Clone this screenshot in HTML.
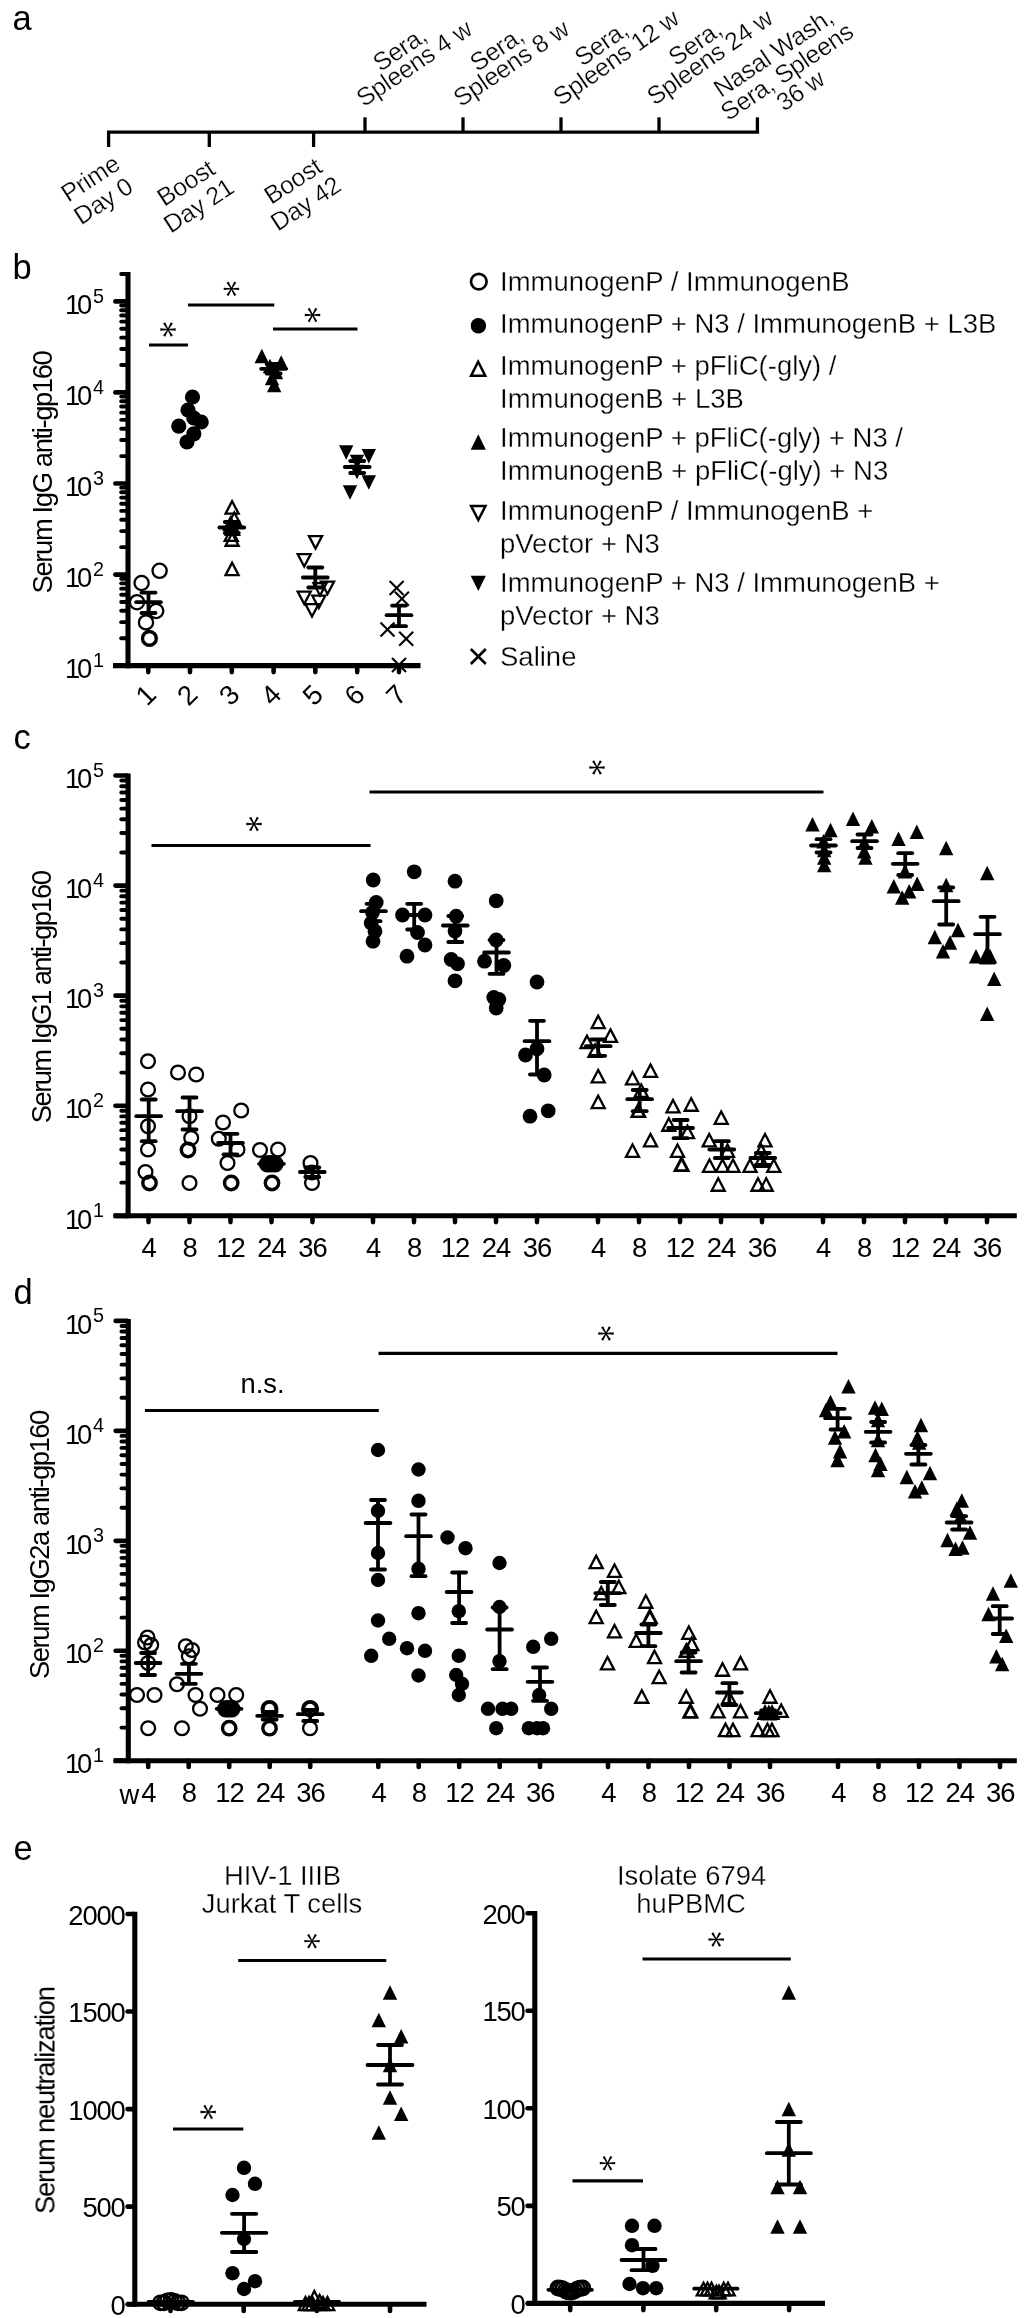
<!DOCTYPE html>
<html><head><meta charset="utf-8"><style>html,body{margin:0;padding:0;background:#fff}svg{display:block}text{font-family:"Liberation Sans",sans-serif;fill:#000}.lt{stroke:#fff;stroke-width:0.3px}</style></head>
<body><svg width="1024" height="2318" viewBox="0 0 1024 2318">
<defs><filter id="sf" x="0" y="0" width="1024" height="2318" filterUnits="userSpaceOnUse"><feGaussianBlur stdDeviation="0.5"/></filter></defs>
<rect width="1024" height="2318" fill="#fff"/>
<g filter="url(#sf)">
<text x="12.50" y="30.00" font-size="34.5" text-anchor="start">a</text>
<text x="12.50" y="279.00" font-size="34.5" text-anchor="start">b</text>
<text x="13.50" y="749.00" font-size="34.5" text-anchor="start">c</text>
<text x="13.50" y="1304.00" font-size="34.5" text-anchor="start">d</text>
<text x="13.50" y="1860.00" font-size="34.5" text-anchor="start">e</text>
<line x1="107.00" y1="132.10" x2="759.10" y2="132.10" stroke="#000" stroke-width="3.3" stroke-linecap="butt"/>
<line x1="108.60" y1="132.00" x2="108.60" y2="147.00" stroke="#000" stroke-width="3.3" stroke-linecap="butt"/>
<line x1="209.30" y1="132.00" x2="209.30" y2="147.00" stroke="#000" stroke-width="3.3" stroke-linecap="butt"/>
<line x1="313.60" y1="132.00" x2="313.60" y2="147.00" stroke="#000" stroke-width="3.3" stroke-linecap="butt"/>
<line x1="365.00" y1="117.30" x2="365.00" y2="132.00" stroke="#000" stroke-width="3.3" stroke-linecap="butt"/>
<line x1="463.00" y1="117.30" x2="463.00" y2="132.00" stroke="#000" stroke-width="3.3" stroke-linecap="butt"/>
<line x1="561.00" y1="117.30" x2="561.00" y2="132.00" stroke="#000" stroke-width="3.3" stroke-linecap="butt"/>
<line x1="659.00" y1="117.30" x2="659.00" y2="132.00" stroke="#000" stroke-width="3.3" stroke-linecap="butt"/>
<line x1="757.40" y1="117.30" x2="757.40" y2="132.00" stroke="#000" stroke-width="3.3" stroke-linecap="butt"/>
<g transform="translate(94.9 185.5) rotate(-33)">
<text class="lt" x="0" y="0" font-size="25" text-anchor="middle" letter-spacing="-0.3">Prime</text>
<text class="lt" x="-1.5" y="26" font-size="25" text-anchor="middle" letter-spacing="-0.3">Day 0</text>
</g>
<g transform="translate(190.4 190.1) rotate(-33)">
<text class="lt" x="0" y="0" font-size="25" text-anchor="middle" letter-spacing="-0.3">Boost</text>
<text class="lt" x="-1.5" y="26" font-size="25" text-anchor="middle" letter-spacing="-0.3">Day 21</text>
</g>
<g transform="translate(297.4 188.1) rotate(-33)">
<text class="lt" x="0" y="0" font-size="25" text-anchor="middle" letter-spacing="-0.3">Boost</text>
<text class="lt" x="-1.5" y="26" font-size="25" text-anchor="middle" letter-spacing="-0.3">Day 42</text>
</g>
<g transform="translate(407.6 53.7) rotate(-34)">
<text class="lt" x="-4" y="0" font-size="25" text-anchor="middle" letter-spacing="-0.3">Sera,</text>
<text class="lt" x="0" y="20" font-size="25" text-anchor="middle" letter-spacing="-0.3">Spleens 4 w</text>
</g>
<g transform="translate(504.6 53.7) rotate(-34)">
<text class="lt" x="-4" y="0" font-size="25" text-anchor="middle" letter-spacing="-0.3">Sera,</text>
<text class="lt" x="0" y="20" font-size="25" text-anchor="middle" letter-spacing="-0.3">Spleens 8 w</text>
</g>
<g transform="translate(609.3 48.0) rotate(-35)">
<text class="lt" x="-4" y="0" font-size="25" text-anchor="middle" letter-spacing="-0.3">Sera,</text>
<text class="lt" x="0" y="20" font-size="25" text-anchor="middle" letter-spacing="-0.3">Spleens 12 w</text>
</g>
<g transform="translate(703.1 47.7) rotate(-35)">
<text class="lt" x="-4" y="0" font-size="25" text-anchor="middle" letter-spacing="-0.3">Sera,</text>
<text class="lt" x="0" y="20" font-size="25" text-anchor="middle" letter-spacing="-0.3">Spleens 24 w</text>
</g>
<g transform="translate(778.1 59.7) rotate(-34)">
<text class="lt" x="0" y="0.0" font-size="25" text-anchor="middle" letter-spacing="-0.3">Nasal Wash,</text>
<text class="lt" x="0.6" y="23.2" font-size="25" text-anchor="middle" letter-spacing="-0.3">Sera, Spleens</text>
<text class="lt" x="1.2" y="46.4" font-size="25" text-anchor="middle" letter-spacing="-0.3">36 w</text>
</g>
<text x="500.00" y="290.50" font-size="27.5" text-anchor="start" class="lt">ImmunogenP / ImmunogenB</text>
<text x="500.00" y="333.00" font-size="27.5" text-anchor="start" class="lt">ImmunogenP + N3 / ImmunogenB + L3B</text>
<text x="500.00" y="374.50" font-size="27.5" text-anchor="start" class="lt">ImmunogenP + pFliC(-gly) /</text>
<text x="500.00" y="408.00" font-size="27.5" text-anchor="start" class="lt">ImmunogenB + L3B</text>
<text x="500.00" y="447.00" font-size="27.5" text-anchor="start" class="lt">ImmunogenP + pFliC(-gly) + N3 /</text>
<text x="500.00" y="480.00" font-size="27.5" text-anchor="start" class="lt">ImmunogenB + pFliC(-gly) + N3</text>
<text x="500.00" y="519.50" font-size="27.5" text-anchor="start" class="lt">ImmunogenP / ImmunogenB +</text>
<text x="500.00" y="552.50" font-size="27.5" text-anchor="start" class="lt">pVector + N3</text>
<text x="500.00" y="592.00" font-size="27.5" text-anchor="start" class="lt">ImmunogenP + N3 / ImmunogenB +</text>
<text x="500.00" y="624.50" font-size="27.5" text-anchor="start" class="lt">pVector + N3</text>
<text x="500.00" y="666.00" font-size="27.5" text-anchor="start" class="lt">Saline</text>
<circle cx="478.80" cy="281.60" r="7.8" fill="none" stroke="#000" stroke-width="2.7"/>
<circle cx="478.40" cy="325.80" r="7.7" fill="#000"/>
<polygon points="478.20,361.65 471.12,375.65 485.27,375.65" fill="none" stroke="#000" stroke-width="2.5" stroke-linejoin="miter"/>
<polygon points="478.30,434.25 470.70,449.75 485.90,449.75" fill="#000"/>
<polygon points="478.30,519.95 471.12,505.95 485.48,505.95" fill="none" stroke="#000" stroke-width="2.5" stroke-linejoin="miter"/>
<polygon points="478.30,591.00 470.70,575.80 485.90,575.80" fill="#000"/>
<line x1="470.80" y1="649.00" x2="485.80" y2="664.00" stroke="#000" stroke-width="2.6" stroke-linecap="butt"/>
<line x1="470.80" y1="664.00" x2="485.80" y2="649.00" stroke="#000" stroke-width="2.6" stroke-linecap="butt"/>
<line x1="128.00" y1="271.99" x2="128.00" y2="668.15" stroke="#000" stroke-width="5.1" stroke-linecap="butt"/>
<line x1="115.40" y1="665.60" x2="127.00" y2="665.60" stroke="#000" stroke-width="4.7" stroke-linecap="round"/>
<line x1="121.20" y1="638.19" x2="127.00" y2="638.19" stroke="#000" stroke-width="3.9" stroke-linecap="round"/>
<line x1="121.20" y1="622.16" x2="127.00" y2="622.16" stroke="#000" stroke-width="3.9" stroke-linecap="round"/>
<line x1="121.20" y1="610.78" x2="127.00" y2="610.78" stroke="#000" stroke-width="3.9" stroke-linecap="round"/>
<line x1="121.20" y1="601.96" x2="127.00" y2="601.96" stroke="#000" stroke-width="3.9" stroke-linecap="round"/>
<line x1="121.20" y1="594.75" x2="127.00" y2="594.75" stroke="#000" stroke-width="3.9" stroke-linecap="round"/>
<line x1="121.20" y1="588.65" x2="127.00" y2="588.65" stroke="#000" stroke-width="3.9" stroke-linecap="round"/>
<line x1="121.20" y1="583.37" x2="127.00" y2="583.37" stroke="#000" stroke-width="3.9" stroke-linecap="round"/>
<line x1="121.20" y1="578.72" x2="127.00" y2="578.72" stroke="#000" stroke-width="3.9" stroke-linecap="round"/>
<line x1="115.40" y1="574.55" x2="127.00" y2="574.55" stroke="#000" stroke-width="4.7" stroke-linecap="round"/>
<line x1="121.20" y1="547.14" x2="127.00" y2="547.14" stroke="#000" stroke-width="3.9" stroke-linecap="round"/>
<line x1="121.20" y1="531.11" x2="127.00" y2="531.11" stroke="#000" stroke-width="3.9" stroke-linecap="round"/>
<line x1="121.20" y1="519.73" x2="127.00" y2="519.73" stroke="#000" stroke-width="3.9" stroke-linecap="round"/>
<line x1="121.20" y1="510.91" x2="127.00" y2="510.91" stroke="#000" stroke-width="3.9" stroke-linecap="round"/>
<line x1="121.20" y1="503.70" x2="127.00" y2="503.70" stroke="#000" stroke-width="3.9" stroke-linecap="round"/>
<line x1="121.20" y1="497.60" x2="127.00" y2="497.60" stroke="#000" stroke-width="3.9" stroke-linecap="round"/>
<line x1="121.20" y1="492.32" x2="127.00" y2="492.32" stroke="#000" stroke-width="3.9" stroke-linecap="round"/>
<line x1="121.20" y1="487.67" x2="127.00" y2="487.67" stroke="#000" stroke-width="3.9" stroke-linecap="round"/>
<line x1="115.40" y1="483.50" x2="127.00" y2="483.50" stroke="#000" stroke-width="4.7" stroke-linecap="round"/>
<line x1="121.20" y1="456.09" x2="127.00" y2="456.09" stroke="#000" stroke-width="3.9" stroke-linecap="round"/>
<line x1="121.20" y1="440.06" x2="127.00" y2="440.06" stroke="#000" stroke-width="3.9" stroke-linecap="round"/>
<line x1="121.20" y1="428.68" x2="127.00" y2="428.68" stroke="#000" stroke-width="3.9" stroke-linecap="round"/>
<line x1="121.20" y1="419.86" x2="127.00" y2="419.86" stroke="#000" stroke-width="3.9" stroke-linecap="round"/>
<line x1="121.20" y1="412.65" x2="127.00" y2="412.65" stroke="#000" stroke-width="3.9" stroke-linecap="round"/>
<line x1="121.20" y1="406.55" x2="127.00" y2="406.55" stroke="#000" stroke-width="3.9" stroke-linecap="round"/>
<line x1="121.20" y1="401.27" x2="127.00" y2="401.27" stroke="#000" stroke-width="3.9" stroke-linecap="round"/>
<line x1="121.20" y1="396.62" x2="127.00" y2="396.62" stroke="#000" stroke-width="3.9" stroke-linecap="round"/>
<line x1="115.40" y1="392.45" x2="127.00" y2="392.45" stroke="#000" stroke-width="4.7" stroke-linecap="round"/>
<line x1="121.20" y1="365.04" x2="127.00" y2="365.04" stroke="#000" stroke-width="3.9" stroke-linecap="round"/>
<line x1="121.20" y1="349.01" x2="127.00" y2="349.01" stroke="#000" stroke-width="3.9" stroke-linecap="round"/>
<line x1="121.20" y1="337.63" x2="127.00" y2="337.63" stroke="#000" stroke-width="3.9" stroke-linecap="round"/>
<line x1="121.20" y1="328.81" x2="127.00" y2="328.81" stroke="#000" stroke-width="3.9" stroke-linecap="round"/>
<line x1="121.20" y1="321.60" x2="127.00" y2="321.60" stroke="#000" stroke-width="3.9" stroke-linecap="round"/>
<line x1="121.20" y1="315.50" x2="127.00" y2="315.50" stroke="#000" stroke-width="3.9" stroke-linecap="round"/>
<line x1="121.20" y1="310.22" x2="127.00" y2="310.22" stroke="#000" stroke-width="3.9" stroke-linecap="round"/>
<line x1="121.20" y1="305.57" x2="127.00" y2="305.57" stroke="#000" stroke-width="3.9" stroke-linecap="round"/>
<line x1="115.40" y1="301.40" x2="127.00" y2="301.40" stroke="#000" stroke-width="4.7" stroke-linecap="round"/>
<line x1="121.20" y1="273.99" x2="127.00" y2="273.99" stroke="#000" stroke-width="3.9" stroke-linecap="round"/>
<line x1="113.00" y1="665.60" x2="420.50" y2="665.60" stroke="#000" stroke-width="5.1" stroke-linecap="butt"/>
<line x1="148.30" y1="665.60" x2="148.30" y2="672.10" stroke="#000" stroke-width="4.6" stroke-linecap="round"/>
<text x="152.30" y="701.70" font-size="27.4" text-anchor="middle" transform="rotate(-45 152.30 701.70)">1</text>
<line x1="190.00" y1="665.60" x2="190.00" y2="672.10" stroke="#000" stroke-width="4.6" stroke-linecap="round"/>
<text x="194.00" y="701.70" font-size="27.4" text-anchor="middle" transform="rotate(-45 194.00 701.70)">2</text>
<line x1="231.80" y1="665.60" x2="231.80" y2="672.10" stroke="#000" stroke-width="4.6" stroke-linecap="round"/>
<text x="235.80" y="701.70" font-size="27.4" text-anchor="middle" transform="rotate(-45 235.80 701.70)">3</text>
<line x1="273.60" y1="665.60" x2="273.60" y2="672.10" stroke="#000" stroke-width="4.6" stroke-linecap="round"/>
<text x="277.60" y="701.70" font-size="27.4" text-anchor="middle" transform="rotate(-45 277.60 701.70)">4</text>
<line x1="315.30" y1="665.60" x2="315.30" y2="672.10" stroke="#000" stroke-width="4.6" stroke-linecap="round"/>
<text x="319.30" y="701.70" font-size="27.4" text-anchor="middle" transform="rotate(-45 319.30 701.70)">5</text>
<line x1="357.20" y1="665.60" x2="357.20" y2="672.10" stroke="#000" stroke-width="4.6" stroke-linecap="round"/>
<text x="361.20" y="701.70" font-size="27.4" text-anchor="middle" transform="rotate(-45 361.20 701.70)">6</text>
<line x1="399.00" y1="665.60" x2="399.00" y2="672.10" stroke="#000" stroke-width="4.6" stroke-linecap="round"/>
<text x="403.00" y="701.70" font-size="27.4" text-anchor="middle" transform="rotate(-45 403.00 701.70)">7</text>
<text x="64.90" y="678.30" font-size="27.4" text-anchor="start">1</text>
<text x="77.00" y="678.30" font-size="27.4" text-anchor="start">0</text>
<text x="93.00" y="666.80" font-size="19.8" text-anchor="start">1</text>
<text x="64.90" y="587.25" font-size="27.4" text-anchor="start">1</text>
<text x="77.00" y="587.25" font-size="27.4" text-anchor="start">0</text>
<text x="93.00" y="575.75" font-size="19.8" text-anchor="start">2</text>
<text x="64.90" y="496.20" font-size="27.4" text-anchor="start">1</text>
<text x="77.00" y="496.20" font-size="27.4" text-anchor="start">0</text>
<text x="93.00" y="484.70" font-size="19.8" text-anchor="start">3</text>
<text x="64.90" y="405.15" font-size="27.4" text-anchor="start">1</text>
<text x="77.00" y="405.15" font-size="27.4" text-anchor="start">0</text>
<text x="93.00" y="393.65" font-size="19.8" text-anchor="start">4</text>
<text x="64.90" y="314.10" font-size="27.4" text-anchor="start">1</text>
<text x="77.00" y="314.10" font-size="27.4" text-anchor="start">0</text>
<text x="93.00" y="302.60" font-size="19.8" text-anchor="start">5</text>
<text transform="translate(51.5 593.4) rotate(-90)" font-size="27.4" textLength="243.2" lengthAdjust="spacing">Serum IgG anti-gp160</text>
<line x1="149.00" y1="345.00" x2="188.00" y2="345.00" stroke="#000" stroke-width="3.2" stroke-linecap="butt"/>
<polygon points="168.00,330.05 175.70,330.65 175.70,328.35 168.00,328.95" fill="#000"/>
<polygon points="167.52,329.77 170.85,336.74 172.85,335.59 168.48,329.23" fill="#000"/>
<polygon points="167.52,329.23 163.15,335.59 165.15,336.74 168.48,329.77" fill="#000"/>
<polygon points="168.00,328.95 160.30,328.35 160.30,330.65 168.00,330.05" fill="#000"/>
<polygon points="168.48,329.23 165.15,322.26 163.15,323.41 167.52,329.77" fill="#000"/>
<polygon points="168.48,329.77 172.85,323.41 170.85,322.26 167.52,329.23" fill="#000"/>
<circle cx="168.00" cy="329.50" r="1.3" fill="#000"/>
<line x1="188.00" y1="305.00" x2="274.30" y2="305.00" stroke="#000" stroke-width="3.2" stroke-linecap="butt"/>
<polygon points="231.40,289.35 239.10,289.95 239.10,287.65 231.40,288.25" fill="#000"/>
<polygon points="230.92,289.07 234.25,296.04 236.25,294.89 231.88,288.53" fill="#000"/>
<polygon points="230.92,288.53 226.55,294.89 228.55,296.04 231.88,289.07" fill="#000"/>
<polygon points="231.40,288.25 223.70,287.65 223.70,289.95 231.40,289.35" fill="#000"/>
<polygon points="231.88,288.53 228.55,281.56 226.55,282.71 230.92,289.07" fill="#000"/>
<polygon points="231.88,289.07 236.25,282.71 234.25,281.56 230.92,288.53" fill="#000"/>
<circle cx="231.40" cy="288.80" r="1.3" fill="#000"/>
<line x1="273.00" y1="329.00" x2="357.50" y2="329.00" stroke="#000" stroke-width="3.2" stroke-linecap="butt"/>
<polygon points="312.50,315.55 320.20,316.15 320.20,313.85 312.50,314.45" fill="#000"/>
<polygon points="312.02,315.27 315.35,322.24 317.35,321.09 312.98,314.73" fill="#000"/>
<polygon points="312.02,314.73 307.65,321.09 309.65,322.24 312.98,315.27" fill="#000"/>
<polygon points="312.50,314.45 304.80,313.85 304.80,316.15 312.50,315.55" fill="#000"/>
<polygon points="312.98,314.73 309.65,307.76 307.65,308.91 312.02,315.27" fill="#000"/>
<polygon points="312.98,315.27 317.35,308.91 315.35,307.76 312.02,314.73" fill="#000"/>
<circle cx="312.50" cy="315.00" r="1.3" fill="#000"/>
<circle cx="159.60" cy="570.80" r="7.1" fill="none" stroke="#000" stroke-width="2.3"/>
<circle cx="141.60" cy="583.00" r="7.1" fill="none" stroke="#000" stroke-width="2.3"/>
<circle cx="137.00" cy="602.20" r="7.1" fill="none" stroke="#000" stroke-width="2.3"/>
<circle cx="156.20" cy="611.00" r="7.1" fill="none" stroke="#000" stroke-width="2.3"/>
<circle cx="146.00" cy="622.40" r="7.1" fill="none" stroke="#000" stroke-width="2.3"/>
<circle cx="149.40" cy="638.40" r="6.9" fill="none" stroke="#000" stroke-width="3.4"/>
<line x1="136.10" y1="602.20" x2="160.90" y2="602.20" stroke="#000" stroke-width="3.8" stroke-linecap="round"/>
<line x1="148.50" y1="592.60" x2="148.50" y2="613.00" stroke="#000" stroke-width="3.8" stroke-linecap="butt"/>
<line x1="141.50" y1="592.60" x2="155.50" y2="592.60" stroke="#000" stroke-width="3.8" stroke-linecap="round"/>
<line x1="141.50" y1="613.00" x2="155.50" y2="613.00" stroke="#000" stroke-width="3.8" stroke-linecap="round"/>
<circle cx="192.50" cy="397.00" r="7.6" fill="#000"/>
<circle cx="188.00" cy="410.00" r="7.6" fill="#000"/>
<circle cx="201.20" cy="422.00" r="7.6" fill="#000"/>
<circle cx="178.80" cy="426.20" r="7.6" fill="#000"/>
<circle cx="193.80" cy="418.00" r="7.6" fill="#000"/>
<circle cx="193.80" cy="433.80" r="7.6" fill="#000"/>
<circle cx="187.00" cy="442.00" r="7.6" fill="#000"/>
<polygon points="232.10,501.13 225.56,513.65 238.64,513.65" fill="none" stroke="#000" stroke-width="2.3" stroke-linejoin="miter"/>
<polygon points="234.30,512.43 227.76,524.95 240.84,524.95" fill="none" stroke="#000" stroke-width="2.3" stroke-linejoin="miter"/>
<polygon points="230.60,517.43 224.06,529.95 237.14,529.95" fill="none" stroke="#000" stroke-width="2.3" stroke-linejoin="miter"/>
<polygon points="232.50,522.43 225.96,534.95 239.04,534.95" fill="none" stroke="#000" stroke-width="2.3" stroke-linejoin="miter"/>
<polygon points="231.20,528.43 224.66,540.95 237.74,540.95" fill="none" stroke="#000" stroke-width="2.3" stroke-linejoin="miter"/>
<polygon points="232.10,533.23 225.56,545.75 238.64,545.75" fill="none" stroke="#000" stroke-width="2.3" stroke-linejoin="miter"/>
<polygon points="232.10,562.63 225.56,575.15 238.64,575.15" fill="none" stroke="#000" stroke-width="2.3" stroke-linejoin="miter"/>
<line x1="219.40" y1="527.50" x2="244.20" y2="527.50" stroke="#000" stroke-width="3.8" stroke-linecap="round"/>
<line x1="231.80" y1="522.00" x2="231.80" y2="533.00" stroke="#000" stroke-width="3.8" stroke-linecap="butt"/>
<line x1="224.80" y1="522.00" x2="238.80" y2="522.00" stroke="#000" stroke-width="3.8" stroke-linecap="round"/>
<line x1="224.80" y1="533.00" x2="238.80" y2="533.00" stroke="#000" stroke-width="3.8" stroke-linecap="round"/>
<polygon points="261.80,348.80 254.60,363.20 269.00,363.20" fill="#000"/>
<polygon points="281.20,355.30 274.00,369.70 288.40,369.70" fill="#000"/>
<polygon points="270.00,358.80 262.80,373.20 277.20,373.20" fill="#000"/>
<polygon points="276.00,364.80 268.80,379.20 283.20,379.20" fill="#000"/>
<polygon points="272.00,370.80 264.80,385.20 279.20,385.20" fill="#000"/>
<polygon points="274.20,377.80 267.00,392.20 281.40,392.20" fill="#000"/>
<line x1="261.20" y1="368.80" x2="286.00" y2="368.80" stroke="#000" stroke-width="3.8" stroke-linecap="round"/>
<line x1="273.60" y1="364.00" x2="273.60" y2="373.50" stroke="#000" stroke-width="3.8" stroke-linecap="butt"/>
<line x1="266.60" y1="364.00" x2="280.60" y2="364.00" stroke="#000" stroke-width="3.8" stroke-linecap="round"/>
<line x1="266.60" y1="373.50" x2="280.60" y2="373.50" stroke="#000" stroke-width="3.8" stroke-linecap="round"/>
<polygon points="315.50,548.57 308.95,536.05 322.05,536.05" fill="none" stroke="#000" stroke-width="2.3" stroke-linejoin="miter"/>
<polygon points="304.20,566.57 297.65,554.05 310.75,554.05" fill="none" stroke="#000" stroke-width="2.3" stroke-linejoin="miter"/>
<polygon points="327.50,594.07 320.95,581.55 334.05,581.55" fill="none" stroke="#000" stroke-width="2.3" stroke-linejoin="miter"/>
<polygon points="320.00,595.57 313.45,583.05 326.55,583.05" fill="none" stroke="#000" stroke-width="2.3" stroke-linejoin="miter"/>
<polygon points="304.20,604.07 297.65,591.55 310.75,591.55" fill="none" stroke="#000" stroke-width="2.3" stroke-linejoin="miter"/>
<polygon points="318.80,608.07 312.25,595.55 325.35,595.55" fill="none" stroke="#000" stroke-width="2.3" stroke-linejoin="miter"/>
<polygon points="312.00,616.57 305.45,604.05 318.55,604.05" fill="none" stroke="#000" stroke-width="2.3" stroke-linejoin="miter"/>
<line x1="302.90" y1="577.50" x2="327.70" y2="577.50" stroke="#000" stroke-width="3.8" stroke-linecap="round"/>
<line x1="315.30" y1="567.50" x2="315.30" y2="587.50" stroke="#000" stroke-width="3.8" stroke-linecap="butt"/>
<line x1="308.30" y1="567.50" x2="322.30" y2="567.50" stroke="#000" stroke-width="3.8" stroke-linecap="round"/>
<line x1="308.30" y1="587.50" x2="322.30" y2="587.50" stroke="#000" stroke-width="3.8" stroke-linecap="round"/>
<polygon points="346.20,459.70 339.00,445.30 353.40,445.30" fill="#000"/>
<polygon points="368.80,463.40 361.60,449.00 376.00,449.00" fill="#000"/>
<polygon points="357.00,469.20 349.80,454.80 364.20,454.80" fill="#000"/>
<polygon points="357.00,479.20 349.80,464.80 364.20,464.80" fill="#000"/>
<polygon points="368.80,489.70 361.60,475.30 376.00,475.30" fill="#000"/>
<polygon points="350.00,499.70 342.80,485.30 357.20,485.30" fill="#000"/>
<line x1="344.80" y1="467.00" x2="369.60" y2="467.00" stroke="#000" stroke-width="3.8" stroke-linecap="round"/>
<line x1="357.20" y1="461.00" x2="357.20" y2="473.00" stroke="#000" stroke-width="3.8" stroke-linecap="butt"/>
<line x1="350.20" y1="461.00" x2="364.20" y2="461.00" stroke="#000" stroke-width="3.8" stroke-linecap="round"/>
<line x1="350.20" y1="473.00" x2="364.20" y2="473.00" stroke="#000" stroke-width="3.8" stroke-linecap="round"/>
<line x1="389.60" y1="581.00" x2="403.60" y2="595.00" stroke="#000" stroke-width="2.1" stroke-linecap="butt"/>
<line x1="389.60" y1="595.00" x2="403.60" y2="581.00" stroke="#000" stroke-width="2.1" stroke-linecap="butt"/>
<line x1="394.90" y1="591.80" x2="408.90" y2="605.80" stroke="#000" stroke-width="2.1" stroke-linecap="butt"/>
<line x1="394.90" y1="605.80" x2="408.90" y2="591.80" stroke="#000" stroke-width="2.1" stroke-linecap="butt"/>
<line x1="380.50" y1="622.40" x2="394.50" y2="636.40" stroke="#000" stroke-width="2.1" stroke-linecap="butt"/>
<line x1="380.50" y1="636.40" x2="394.50" y2="622.40" stroke="#000" stroke-width="2.1" stroke-linecap="butt"/>
<line x1="399.20" y1="631.80" x2="413.20" y2="645.80" stroke="#000" stroke-width="2.1" stroke-linecap="butt"/>
<line x1="399.20" y1="645.80" x2="413.20" y2="631.80" stroke="#000" stroke-width="2.1" stroke-linecap="butt"/>
<line x1="392.00" y1="658.00" x2="406.00" y2="672.00" stroke="#000" stroke-width="2.1" stroke-linecap="butt"/>
<line x1="392.00" y1="672.00" x2="406.00" y2="658.00" stroke="#000" stroke-width="2.1" stroke-linecap="butt"/>
<line x1="386.60" y1="615.20" x2="411.40" y2="615.20" stroke="#000" stroke-width="3.8" stroke-linecap="round"/>
<line x1="399.00" y1="605.60" x2="399.00" y2="626.20" stroke="#000" stroke-width="3.8" stroke-linecap="butt"/>
<line x1="392.00" y1="605.60" x2="406.00" y2="605.60" stroke="#000" stroke-width="3.8" stroke-linecap="round"/>
<line x1="392.00" y1="626.20" x2="406.00" y2="626.20" stroke="#000" stroke-width="3.8" stroke-linecap="round"/>
<line x1="128.10" y1="773.52" x2="128.10" y2="1218.35" stroke="#000" stroke-width="5.1" stroke-linecap="butt"/>
<line x1="115.50" y1="1215.80" x2="127.10" y2="1215.80" stroke="#000" stroke-width="4.7" stroke-linecap="round"/>
<line x1="121.30" y1="1182.67" x2="127.10" y2="1182.67" stroke="#000" stroke-width="3.9" stroke-linecap="round"/>
<line x1="121.30" y1="1163.28" x2="127.10" y2="1163.28" stroke="#000" stroke-width="3.9" stroke-linecap="round"/>
<line x1="121.30" y1="1149.53" x2="127.10" y2="1149.53" stroke="#000" stroke-width="3.9" stroke-linecap="round"/>
<line x1="121.30" y1="1138.86" x2="127.10" y2="1138.86" stroke="#000" stroke-width="3.9" stroke-linecap="round"/>
<line x1="121.30" y1="1130.15" x2="127.10" y2="1130.15" stroke="#000" stroke-width="3.9" stroke-linecap="round"/>
<line x1="121.30" y1="1122.78" x2="127.10" y2="1122.78" stroke="#000" stroke-width="3.9" stroke-linecap="round"/>
<line x1="121.30" y1="1116.40" x2="127.10" y2="1116.40" stroke="#000" stroke-width="3.9" stroke-linecap="round"/>
<line x1="121.30" y1="1110.77" x2="127.10" y2="1110.77" stroke="#000" stroke-width="3.9" stroke-linecap="round"/>
<line x1="115.50" y1="1105.73" x2="127.10" y2="1105.73" stroke="#000" stroke-width="4.7" stroke-linecap="round"/>
<line x1="121.30" y1="1072.60" x2="127.10" y2="1072.60" stroke="#000" stroke-width="3.9" stroke-linecap="round"/>
<line x1="121.30" y1="1053.21" x2="127.10" y2="1053.21" stroke="#000" stroke-width="3.9" stroke-linecap="round"/>
<line x1="121.30" y1="1039.46" x2="127.10" y2="1039.46" stroke="#000" stroke-width="3.9" stroke-linecap="round"/>
<line x1="121.30" y1="1028.79" x2="127.10" y2="1028.79" stroke="#000" stroke-width="3.9" stroke-linecap="round"/>
<line x1="121.30" y1="1020.08" x2="127.10" y2="1020.08" stroke="#000" stroke-width="3.9" stroke-linecap="round"/>
<line x1="121.30" y1="1012.71" x2="127.10" y2="1012.71" stroke="#000" stroke-width="3.9" stroke-linecap="round"/>
<line x1="121.30" y1="1006.33" x2="127.10" y2="1006.33" stroke="#000" stroke-width="3.9" stroke-linecap="round"/>
<line x1="121.30" y1="1000.70" x2="127.10" y2="1000.70" stroke="#000" stroke-width="3.9" stroke-linecap="round"/>
<line x1="115.50" y1="995.66" x2="127.10" y2="995.66" stroke="#000" stroke-width="4.7" stroke-linecap="round"/>
<line x1="121.30" y1="962.53" x2="127.10" y2="962.53" stroke="#000" stroke-width="3.9" stroke-linecap="round"/>
<line x1="121.30" y1="943.14" x2="127.10" y2="943.14" stroke="#000" stroke-width="3.9" stroke-linecap="round"/>
<line x1="121.30" y1="929.39" x2="127.10" y2="929.39" stroke="#000" stroke-width="3.9" stroke-linecap="round"/>
<line x1="121.30" y1="918.72" x2="127.10" y2="918.72" stroke="#000" stroke-width="3.9" stroke-linecap="round"/>
<line x1="121.30" y1="910.01" x2="127.10" y2="910.01" stroke="#000" stroke-width="3.9" stroke-linecap="round"/>
<line x1="121.30" y1="902.64" x2="127.10" y2="902.64" stroke="#000" stroke-width="3.9" stroke-linecap="round"/>
<line x1="121.30" y1="896.26" x2="127.10" y2="896.26" stroke="#000" stroke-width="3.9" stroke-linecap="round"/>
<line x1="121.30" y1="890.63" x2="127.10" y2="890.63" stroke="#000" stroke-width="3.9" stroke-linecap="round"/>
<line x1="115.50" y1="885.59" x2="127.10" y2="885.59" stroke="#000" stroke-width="4.7" stroke-linecap="round"/>
<line x1="121.30" y1="852.46" x2="127.10" y2="852.46" stroke="#000" stroke-width="3.9" stroke-linecap="round"/>
<line x1="121.30" y1="833.07" x2="127.10" y2="833.07" stroke="#000" stroke-width="3.9" stroke-linecap="round"/>
<line x1="121.30" y1="819.32" x2="127.10" y2="819.32" stroke="#000" stroke-width="3.9" stroke-linecap="round"/>
<line x1="121.30" y1="808.65" x2="127.10" y2="808.65" stroke="#000" stroke-width="3.9" stroke-linecap="round"/>
<line x1="121.30" y1="799.94" x2="127.10" y2="799.94" stroke="#000" stroke-width="3.9" stroke-linecap="round"/>
<line x1="121.30" y1="792.57" x2="127.10" y2="792.57" stroke="#000" stroke-width="3.9" stroke-linecap="round"/>
<line x1="121.30" y1="786.19" x2="127.10" y2="786.19" stroke="#000" stroke-width="3.9" stroke-linecap="round"/>
<line x1="121.30" y1="780.56" x2="127.10" y2="780.56" stroke="#000" stroke-width="3.9" stroke-linecap="round"/>
<line x1="115.50" y1="775.52" x2="127.10" y2="775.52" stroke="#000" stroke-width="4.7" stroke-linecap="round"/>
<line x1="113.50" y1="1215.80" x2="1016.80" y2="1215.80" stroke="#000" stroke-width="5.1" stroke-linecap="butt"/>
<line x1="148.50" y1="1215.80" x2="148.50" y2="1222.10" stroke="#000" stroke-width="4.6" stroke-linecap="round"/>
<text x="148.60" y="1256.80" font-size="27.4" text-anchor="middle" letter-spacing="-0.9">4</text>
<line x1="189.50" y1="1215.80" x2="189.50" y2="1222.10" stroke="#000" stroke-width="4.6" stroke-linecap="round"/>
<text x="189.60" y="1256.80" font-size="27.4" text-anchor="middle" letter-spacing="-0.9">8</text>
<line x1="230.50" y1="1215.80" x2="230.50" y2="1222.10" stroke="#000" stroke-width="4.6" stroke-linecap="round"/>
<text x="230.60" y="1256.80" font-size="27.4" text-anchor="middle" letter-spacing="-0.9">12</text>
<line x1="271.50" y1="1215.80" x2="271.50" y2="1222.10" stroke="#000" stroke-width="4.6" stroke-linecap="round"/>
<text x="271.60" y="1256.80" font-size="27.4" text-anchor="middle" letter-spacing="-0.9">24</text>
<line x1="312.50" y1="1215.80" x2="312.50" y2="1222.10" stroke="#000" stroke-width="4.6" stroke-linecap="round"/>
<text x="312.60" y="1256.80" font-size="27.4" text-anchor="middle" letter-spacing="-0.9">36</text>
<line x1="373.00" y1="1215.80" x2="373.00" y2="1222.10" stroke="#000" stroke-width="4.6" stroke-linecap="round"/>
<text x="373.10" y="1256.80" font-size="27.4" text-anchor="middle" letter-spacing="-0.9">4</text>
<line x1="414.00" y1="1215.80" x2="414.00" y2="1222.10" stroke="#000" stroke-width="4.6" stroke-linecap="round"/>
<text x="414.10" y="1256.80" font-size="27.4" text-anchor="middle" letter-spacing="-0.9">8</text>
<line x1="455.00" y1="1215.80" x2="455.00" y2="1222.10" stroke="#000" stroke-width="4.6" stroke-linecap="round"/>
<text x="455.10" y="1256.80" font-size="27.4" text-anchor="middle" letter-spacing="-0.9">12</text>
<line x1="496.00" y1="1215.80" x2="496.00" y2="1222.10" stroke="#000" stroke-width="4.6" stroke-linecap="round"/>
<text x="496.10" y="1256.80" font-size="27.4" text-anchor="middle" letter-spacing="-0.9">24</text>
<line x1="537.00" y1="1215.80" x2="537.00" y2="1222.10" stroke="#000" stroke-width="4.6" stroke-linecap="round"/>
<text x="537.10" y="1256.80" font-size="27.4" text-anchor="middle" letter-spacing="-0.9">36</text>
<line x1="598.00" y1="1215.80" x2="598.00" y2="1222.10" stroke="#000" stroke-width="4.6" stroke-linecap="round"/>
<text x="598.10" y="1256.80" font-size="27.4" text-anchor="middle" letter-spacing="-0.9">4</text>
<line x1="639.00" y1="1215.80" x2="639.00" y2="1222.10" stroke="#000" stroke-width="4.6" stroke-linecap="round"/>
<text x="639.10" y="1256.80" font-size="27.4" text-anchor="middle" letter-spacing="-0.9">8</text>
<line x1="680.00" y1="1215.80" x2="680.00" y2="1222.10" stroke="#000" stroke-width="4.6" stroke-linecap="round"/>
<text x="680.10" y="1256.80" font-size="27.4" text-anchor="middle" letter-spacing="-0.9">12</text>
<line x1="721.00" y1="1215.80" x2="721.00" y2="1222.10" stroke="#000" stroke-width="4.6" stroke-linecap="round"/>
<text x="721.10" y="1256.80" font-size="27.4" text-anchor="middle" letter-spacing="-0.9">24</text>
<line x1="762.00" y1="1215.80" x2="762.00" y2="1222.10" stroke="#000" stroke-width="4.6" stroke-linecap="round"/>
<text x="762.10" y="1256.80" font-size="27.4" text-anchor="middle" letter-spacing="-0.9">36</text>
<line x1="823.00" y1="1215.80" x2="823.00" y2="1222.10" stroke="#000" stroke-width="4.6" stroke-linecap="round"/>
<text x="823.10" y="1256.80" font-size="27.4" text-anchor="middle" letter-spacing="-0.9">4</text>
<line x1="864.00" y1="1215.80" x2="864.00" y2="1222.10" stroke="#000" stroke-width="4.6" stroke-linecap="round"/>
<text x="864.10" y="1256.80" font-size="27.4" text-anchor="middle" letter-spacing="-0.9">8</text>
<line x1="905.00" y1="1215.80" x2="905.00" y2="1222.10" stroke="#000" stroke-width="4.6" stroke-linecap="round"/>
<text x="905.10" y="1256.80" font-size="27.4" text-anchor="middle" letter-spacing="-0.9">12</text>
<line x1="946.00" y1="1215.80" x2="946.00" y2="1222.10" stroke="#000" stroke-width="4.6" stroke-linecap="round"/>
<text x="946.10" y="1256.80" font-size="27.4" text-anchor="middle" letter-spacing="-0.9">24</text>
<line x1="987.00" y1="1215.80" x2="987.00" y2="1222.10" stroke="#000" stroke-width="4.6" stroke-linecap="round"/>
<text x="987.10" y="1256.80" font-size="27.4" text-anchor="middle" letter-spacing="-0.9">36</text>
<text x="64.90" y="1228.50" font-size="27.4" text-anchor="start">1</text>
<text x="77.00" y="1228.50" font-size="27.4" text-anchor="start">0</text>
<text x="93.00" y="1217.00" font-size="19.8" text-anchor="start">1</text>
<text x="64.90" y="1118.43" font-size="27.4" text-anchor="start">1</text>
<text x="77.00" y="1118.43" font-size="27.4" text-anchor="start">0</text>
<text x="93.00" y="1106.93" font-size="19.8" text-anchor="start">2</text>
<text x="64.90" y="1008.36" font-size="27.4" text-anchor="start">1</text>
<text x="77.00" y="1008.36" font-size="27.4" text-anchor="start">0</text>
<text x="93.00" y="996.86" font-size="19.8" text-anchor="start">3</text>
<text x="64.90" y="898.29" font-size="27.4" text-anchor="start">1</text>
<text x="77.00" y="898.29" font-size="27.4" text-anchor="start">0</text>
<text x="93.00" y="886.79" font-size="19.8" text-anchor="start">4</text>
<text x="64.90" y="788.22" font-size="27.4" text-anchor="start">1</text>
<text x="77.00" y="788.22" font-size="27.4" text-anchor="start">0</text>
<text x="93.00" y="776.72" font-size="19.8" text-anchor="start">5</text>
<text transform="translate(50.5 1123.2) rotate(-90)" font-size="27.4" textLength="253.1" lengthAdjust="spacing">Serum IgG1 anti-gp160</text>
<line x1="151.50" y1="845.50" x2="370.50" y2="845.50" stroke="#000" stroke-width="3.2" stroke-linecap="butt"/>
<polygon points="254.00,824.55 261.70,825.15 261.70,822.85 254.00,823.45" fill="#000"/>
<polygon points="253.52,824.27 256.85,831.24 258.85,830.09 254.48,823.73" fill="#000"/>
<polygon points="253.52,823.73 249.15,830.09 251.15,831.24 254.48,824.27" fill="#000"/>
<polygon points="254.00,823.45 246.30,822.85 246.30,825.15 254.00,824.55" fill="#000"/>
<polygon points="254.48,823.73 251.15,816.76 249.15,817.91 253.52,824.27" fill="#000"/>
<polygon points="254.48,824.27 258.85,817.91 256.85,816.76 253.52,823.73" fill="#000"/>
<circle cx="254.00" cy="824.00" r="1.3" fill="#000"/>
<line x1="369.50" y1="792.00" x2="823.50" y2="792.00" stroke="#000" stroke-width="3.2" stroke-linecap="butt"/>
<polygon points="597.00,768.05 604.70,768.65 604.70,766.35 597.00,766.95" fill="#000"/>
<polygon points="596.52,767.77 599.85,774.74 601.85,773.59 597.48,767.23" fill="#000"/>
<polygon points="596.52,767.23 592.15,773.59 594.15,774.74 597.48,767.77" fill="#000"/>
<polygon points="597.00,766.95 589.30,766.35 589.30,768.65 597.00,768.05" fill="#000"/>
<polygon points="597.48,767.23 594.15,760.26 592.15,761.41 596.52,767.77" fill="#000"/>
<polygon points="597.48,767.77 601.85,761.41 599.85,760.26 596.52,767.23" fill="#000"/>
<circle cx="597.00" cy="767.50" r="1.3" fill="#000"/>
<circle cx="148.00" cy="1061.20" r="6.9" fill="none" stroke="#000" stroke-width="2.3"/>
<circle cx="148.00" cy="1089.50" r="6.9" fill="none" stroke="#000" stroke-width="2.3"/>
<circle cx="148.00" cy="1126.20" r="6.9" fill="none" stroke="#000" stroke-width="2.3"/>
<circle cx="148.00" cy="1149.50" r="6.9" fill="none" stroke="#000" stroke-width="2.3"/>
<circle cx="145.50" cy="1172.00" r="6.9" fill="none" stroke="#000" stroke-width="2.3"/>
<circle cx="149.50" cy="1183.00" r="6.7" fill="none" stroke="#000" stroke-width="3.4"/>
<line x1="136.30" y1="1116.20" x2="161.10" y2="1116.20" stroke="#000" stroke-width="3.8" stroke-linecap="round"/>
<line x1="148.70" y1="1099.50" x2="148.70" y2="1141.20" stroke="#000" stroke-width="3.8" stroke-linecap="butt"/>
<line x1="141.70" y1="1099.50" x2="155.70" y2="1099.50" stroke="#000" stroke-width="3.8" stroke-linecap="round"/>
<line x1="141.70" y1="1141.20" x2="155.70" y2="1141.20" stroke="#000" stroke-width="3.8" stroke-linecap="round"/>
<circle cx="178.00" cy="1072.50" r="6.9" fill="none" stroke="#000" stroke-width="2.3"/>
<circle cx="196.20" cy="1074.50" r="6.9" fill="none" stroke="#000" stroke-width="2.3"/>
<circle cx="189.50" cy="1116.20" r="6.9" fill="none" stroke="#000" stroke-width="2.3"/>
<circle cx="191.20" cy="1138.00" r="6.9" fill="none" stroke="#000" stroke-width="2.3"/>
<circle cx="189.50" cy="1183.00" r="6.9" fill="none" stroke="#000" stroke-width="2.3"/>
<circle cx="188.00" cy="1150.00" r="6.7" fill="none" stroke="#000" stroke-width="3.4"/>
<line x1="177.10" y1="1111.20" x2="201.90" y2="1111.20" stroke="#000" stroke-width="3.8" stroke-linecap="round"/>
<line x1="189.50" y1="1097.50" x2="189.50" y2="1129.50" stroke="#000" stroke-width="3.8" stroke-linecap="butt"/>
<line x1="182.50" y1="1097.50" x2="196.50" y2="1097.50" stroke="#000" stroke-width="3.8" stroke-linecap="round"/>
<line x1="182.50" y1="1129.50" x2="196.50" y2="1129.50" stroke="#000" stroke-width="3.8" stroke-linecap="round"/>
<circle cx="241.20" cy="1110.50" r="6.9" fill="none" stroke="#000" stroke-width="2.3"/>
<circle cx="223.00" cy="1122.50" r="6.9" fill="none" stroke="#000" stroke-width="2.3"/>
<circle cx="218.80" cy="1138.80" r="6.9" fill="none" stroke="#000" stroke-width="2.3"/>
<circle cx="237.50" cy="1149.50" r="6.9" fill="none" stroke="#000" stroke-width="2.3"/>
<circle cx="227.50" cy="1163.00" r="6.9" fill="none" stroke="#000" stroke-width="2.3"/>
<circle cx="231.20" cy="1183.00" r="6.7" fill="none" stroke="#000" stroke-width="3.4"/>
<line x1="218.10" y1="1143.00" x2="242.90" y2="1143.00" stroke="#000" stroke-width="3.8" stroke-linecap="round"/>
<line x1="230.50" y1="1133.80" x2="230.50" y2="1154.50" stroke="#000" stroke-width="3.8" stroke-linecap="butt"/>
<line x1="223.50" y1="1133.80" x2="237.50" y2="1133.80" stroke="#000" stroke-width="3.8" stroke-linecap="round"/>
<line x1="223.50" y1="1154.50" x2="237.50" y2="1154.50" stroke="#000" stroke-width="3.8" stroke-linecap="round"/>
<circle cx="260.00" cy="1150.00" r="6.9" fill="none" stroke="#000" stroke-width="2.3"/>
<circle cx="278.00" cy="1149.50" r="6.9" fill="none" stroke="#000" stroke-width="2.3"/>
<circle cx="267.50" cy="1163.80" r="6.9" fill="none" stroke="#000" stroke-width="3.6"/>
<circle cx="271.20" cy="1163.80" r="6.9" fill="none" stroke="#000" stroke-width="3.6"/>
<circle cx="275.00" cy="1163.80" r="6.9" fill="none" stroke="#000" stroke-width="3.6"/>
<circle cx="272.00" cy="1183.00" r="6.7" fill="none" stroke="#000" stroke-width="3.4"/>
<line x1="259.10" y1="1163.80" x2="283.90" y2="1163.80" stroke="#000" stroke-width="3.8" stroke-linecap="round"/>
<line x1="271.50" y1="1160.50" x2="271.50" y2="1167.00" stroke="#000" stroke-width="3.8" stroke-linecap="butt"/>
<line x1="264.50" y1="1160.50" x2="278.50" y2="1160.50" stroke="#000" stroke-width="3.8" stroke-linecap="round"/>
<line x1="264.50" y1="1167.00" x2="278.50" y2="1167.00" stroke="#000" stroke-width="3.8" stroke-linecap="round"/>
<circle cx="310.50" cy="1163.00" r="6.9" fill="none" stroke="#000" stroke-width="2.3"/>
<circle cx="312.00" cy="1183.00" r="6.9" fill="none" stroke="#000" stroke-width="2.3"/>
<circle cx="312.00" cy="1172.50" r="6.9" fill="none" stroke="#000" stroke-width="2.3"/>
<line x1="299.90" y1="1172.00" x2="324.70" y2="1172.00" stroke="#000" stroke-width="3.8" stroke-linecap="round"/>
<line x1="312.30" y1="1167.50" x2="312.30" y2="1177.00" stroke="#000" stroke-width="3.8" stroke-linecap="butt"/>
<line x1="305.30" y1="1167.50" x2="319.30" y2="1167.50" stroke="#000" stroke-width="3.8" stroke-linecap="round"/>
<line x1="305.30" y1="1177.00" x2="319.30" y2="1177.00" stroke="#000" stroke-width="3.8" stroke-linecap="round"/>
<circle cx="373.20" cy="880.00" r="7.4" fill="#000"/>
<circle cx="376.20" cy="902.50" r="7.4" fill="#000"/>
<circle cx="372.50" cy="912.50" r="7.4" fill="#000"/>
<circle cx="371.20" cy="923.00" r="7.4" fill="#000"/>
<circle cx="375.00" cy="931.20" r="7.4" fill="#000"/>
<circle cx="373.00" cy="941.20" r="7.4" fill="#000"/>
<line x1="361.10" y1="911.20" x2="385.90" y2="911.20" stroke="#000" stroke-width="3.8" stroke-linecap="round"/>
<line x1="373.50" y1="903.80" x2="373.50" y2="921.20" stroke="#000" stroke-width="3.8" stroke-linecap="butt"/>
<line x1="366.50" y1="903.80" x2="380.50" y2="903.80" stroke="#000" stroke-width="3.8" stroke-linecap="round"/>
<line x1="366.50" y1="921.20" x2="380.50" y2="921.20" stroke="#000" stroke-width="3.8" stroke-linecap="round"/>
<circle cx="414.20" cy="871.80" r="7.4" fill="#000"/>
<circle cx="402.50" cy="915.00" r="7.4" fill="#000"/>
<circle cx="425.00" cy="915.00" r="7.4" fill="#000"/>
<circle cx="417.50" cy="932.50" r="7.4" fill="#000"/>
<circle cx="425.00" cy="945.00" r="7.4" fill="#000"/>
<circle cx="407.00" cy="956.20" r="7.4" fill="#000"/>
<line x1="401.80" y1="915.00" x2="426.60" y2="915.00" stroke="#000" stroke-width="3.8" stroke-linecap="round"/>
<line x1="414.20" y1="903.80" x2="414.20" y2="929.50" stroke="#000" stroke-width="3.8" stroke-linecap="butt"/>
<line x1="407.20" y1="903.80" x2="421.20" y2="903.80" stroke="#000" stroke-width="3.8" stroke-linecap="round"/>
<line x1="407.20" y1="929.50" x2="421.20" y2="929.50" stroke="#000" stroke-width="3.8" stroke-linecap="round"/>
<circle cx="455.00" cy="881.20" r="7.4" fill="#000"/>
<circle cx="456.20" cy="916.20" r="7.4" fill="#000"/>
<circle cx="455.00" cy="931.00" r="7.4" fill="#000"/>
<circle cx="451.20" cy="959.50" r="7.4" fill="#000"/>
<circle cx="457.50" cy="963.80" r="7.4" fill="#000"/>
<circle cx="455.00" cy="980.80" r="7.4" fill="#000"/>
<line x1="442.90" y1="925.50" x2="467.70" y2="925.50" stroke="#000" stroke-width="3.8" stroke-linecap="round"/>
<line x1="455.30" y1="916.00" x2="455.30" y2="942.00" stroke="#000" stroke-width="3.8" stroke-linecap="butt"/>
<line x1="448.30" y1="916.00" x2="462.30" y2="916.00" stroke="#000" stroke-width="3.8" stroke-linecap="round"/>
<line x1="448.30" y1="942.00" x2="462.30" y2="942.00" stroke="#000" stroke-width="3.8" stroke-linecap="round"/>
<circle cx="496.20" cy="900.80" r="7.4" fill="#000"/>
<circle cx="496.20" cy="940.00" r="7.4" fill="#000"/>
<circle cx="484.50" cy="961.20" r="7.4" fill="#000"/>
<circle cx="503.80" cy="965.50" r="7.4" fill="#000"/>
<circle cx="493.80" cy="997.50" r="7.4" fill="#000"/>
<circle cx="498.80" cy="999.50" r="7.4" fill="#000"/>
<circle cx="496.20" cy="1008.00" r="7.4" fill="#000"/>
<line x1="484.10" y1="952.50" x2="508.90" y2="952.50" stroke="#000" stroke-width="3.8" stroke-linecap="round"/>
<line x1="496.50" y1="940.00" x2="496.50" y2="973.80" stroke="#000" stroke-width="3.8" stroke-linecap="butt"/>
<line x1="489.50" y1="940.00" x2="503.50" y2="940.00" stroke="#000" stroke-width="3.8" stroke-linecap="round"/>
<line x1="489.50" y1="973.80" x2="503.50" y2="973.80" stroke="#000" stroke-width="3.8" stroke-linecap="round"/>
<circle cx="537.00" cy="982.00" r="7.4" fill="#000"/>
<circle cx="537.00" cy="1048.80" r="7.4" fill="#000"/>
<circle cx="525.50" cy="1055.00" r="7.4" fill="#000"/>
<circle cx="544.20" cy="1075.00" r="7.4" fill="#000"/>
<circle cx="530.00" cy="1116.20" r="7.4" fill="#000"/>
<circle cx="548.20" cy="1110.80" r="7.4" fill="#000"/>
<line x1="524.60" y1="1041.20" x2="549.40" y2="1041.20" stroke="#000" stroke-width="3.8" stroke-linecap="round"/>
<line x1="537.00" y1="1020.80" x2="537.00" y2="1074.50" stroke="#000" stroke-width="3.8" stroke-linecap="butt"/>
<line x1="530.00" y1="1020.80" x2="544.00" y2="1020.80" stroke="#000" stroke-width="3.8" stroke-linecap="round"/>
<line x1="530.00" y1="1074.50" x2="544.00" y2="1074.50" stroke="#000" stroke-width="3.8" stroke-linecap="round"/>
<polygon points="598.20,1015.63 591.66,1028.15 604.75,1028.15" fill="none" stroke="#000" stroke-width="2.3" stroke-linejoin="miter"/>
<polygon points="610.50,1029.43 603.96,1041.95 617.04,1041.95" fill="none" stroke="#000" stroke-width="2.3" stroke-linejoin="miter"/>
<polygon points="587.00,1035.63 580.46,1048.15 593.54,1048.15" fill="none" stroke="#000" stroke-width="2.3" stroke-linejoin="miter"/>
<polygon points="595.00,1044.43 588.46,1056.95 601.54,1056.95" fill="none" stroke="#000" stroke-width="2.3" stroke-linejoin="miter"/>
<polygon points="598.20,1069.93 591.66,1082.45 604.75,1082.45" fill="none" stroke="#000" stroke-width="2.3" stroke-linejoin="miter"/>
<polygon points="598.20,1095.63 591.66,1108.15 604.75,1108.15" fill="none" stroke="#000" stroke-width="2.3" stroke-linejoin="miter"/>
<line x1="585.80" y1="1046.20" x2="610.60" y2="1046.20" stroke="#000" stroke-width="3.8" stroke-linecap="round"/>
<line x1="598.20" y1="1039.50" x2="598.20" y2="1055.80" stroke="#000" stroke-width="3.8" stroke-linecap="butt"/>
<line x1="591.20" y1="1039.50" x2="605.20" y2="1039.50" stroke="#000" stroke-width="3.8" stroke-linecap="round"/>
<line x1="591.20" y1="1055.80" x2="605.20" y2="1055.80" stroke="#000" stroke-width="3.8" stroke-linecap="round"/>
<polygon points="650.50,1064.43 643.96,1076.95 657.04,1076.95" fill="none" stroke="#000" stroke-width="2.3" stroke-linejoin="miter"/>
<polygon points="632.50,1071.93 625.96,1084.45 639.04,1084.45" fill="none" stroke="#000" stroke-width="2.3" stroke-linejoin="miter"/>
<polygon points="641.20,1084.43 634.66,1096.95 647.75,1096.95" fill="none" stroke="#000" stroke-width="2.3" stroke-linejoin="miter"/>
<polygon points="638.00,1104.43 631.46,1116.95 644.54,1116.95" fill="none" stroke="#000" stroke-width="2.3" stroke-linejoin="miter"/>
<polygon points="638.60,1104.43 632.06,1116.95 645.14,1116.95" fill="none" stroke="#000" stroke-width="2.3" stroke-linejoin="miter"/>
<polygon points="650.50,1133.93 643.96,1146.45 657.04,1146.45" fill="none" stroke="#000" stroke-width="2.3" stroke-linejoin="miter"/>
<polygon points="632.50,1144.43 625.96,1156.95 639.04,1156.95" fill="none" stroke="#000" stroke-width="2.3" stroke-linejoin="miter"/>
<line x1="627.30" y1="1099.20" x2="652.10" y2="1099.20" stroke="#000" stroke-width="3.8" stroke-linecap="round"/>
<line x1="639.70" y1="1090.00" x2="639.70" y2="1111.20" stroke="#000" stroke-width="3.8" stroke-linecap="butt"/>
<line x1="632.70" y1="1090.00" x2="646.70" y2="1090.00" stroke="#000" stroke-width="3.8" stroke-linecap="round"/>
<line x1="632.70" y1="1111.20" x2="646.70" y2="1111.20" stroke="#000" stroke-width="3.8" stroke-linecap="round"/>
<polygon points="673.00,1099.93 666.46,1112.45 679.54,1112.45" fill="none" stroke="#000" stroke-width="2.3" stroke-linejoin="miter"/>
<polygon points="691.20,1098.23 684.66,1110.75 697.75,1110.75" fill="none" stroke="#000" stroke-width="2.3" stroke-linejoin="miter"/>
<polygon points="668.80,1118.23 662.25,1130.75 675.34,1130.75" fill="none" stroke="#000" stroke-width="2.3" stroke-linejoin="miter"/>
<polygon points="687.50,1125.63 680.96,1138.15 694.04,1138.15" fill="none" stroke="#000" stroke-width="2.3" stroke-linejoin="miter"/>
<polygon points="677.50,1144.43 670.96,1156.95 684.04,1156.95" fill="none" stroke="#000" stroke-width="2.3" stroke-linejoin="miter"/>
<polygon points="681.20,1158.23 674.66,1170.75 687.75,1170.75" fill="none" stroke="#000" stroke-width="2.3" stroke-linejoin="miter"/>
<polygon points="682.00,1158.23 675.46,1170.75 688.54,1170.75" fill="none" stroke="#000" stroke-width="2.3" stroke-linejoin="miter"/>
<line x1="668.20" y1="1128.00" x2="693.00" y2="1128.00" stroke="#000" stroke-width="3.8" stroke-linecap="round"/>
<line x1="680.60" y1="1120.00" x2="680.60" y2="1138.20" stroke="#000" stroke-width="3.8" stroke-linecap="butt"/>
<line x1="673.60" y1="1120.00" x2="687.60" y2="1120.00" stroke="#000" stroke-width="3.8" stroke-linecap="round"/>
<line x1="673.60" y1="1138.20" x2="687.60" y2="1138.20" stroke="#000" stroke-width="3.8" stroke-linecap="round"/>
<polygon points="721.20,1111.43 714.66,1123.95 727.75,1123.95" fill="none" stroke="#000" stroke-width="2.3" stroke-linejoin="miter"/>
<polygon points="709.20,1133.93 702.66,1146.45 715.75,1146.45" fill="none" stroke="#000" stroke-width="2.3" stroke-linejoin="miter"/>
<polygon points="727.50,1144.43 720.96,1156.95 734.04,1156.95" fill="none" stroke="#000" stroke-width="2.3" stroke-linejoin="miter"/>
<polygon points="709.50,1159.43 702.96,1171.95 716.04,1171.95" fill="none" stroke="#000" stroke-width="2.3" stroke-linejoin="miter"/>
<polygon points="722.50,1159.43 715.96,1171.95 729.04,1171.95" fill="none" stroke="#000" stroke-width="2.3" stroke-linejoin="miter"/>
<polygon points="733.00,1159.43 726.46,1171.95 739.54,1171.95" fill="none" stroke="#000" stroke-width="2.3" stroke-linejoin="miter"/>
<polygon points="718.20,1178.23 711.66,1190.75 724.75,1190.75" fill="none" stroke="#000" stroke-width="2.3" stroke-linejoin="miter"/>
<line x1="709.40" y1="1149.50" x2="734.20" y2="1149.50" stroke="#000" stroke-width="3.8" stroke-linecap="round"/>
<line x1="721.80" y1="1141.20" x2="721.80" y2="1158.00" stroke="#000" stroke-width="3.8" stroke-linecap="butt"/>
<line x1="714.80" y1="1141.20" x2="728.80" y2="1141.20" stroke="#000" stroke-width="3.8" stroke-linecap="round"/>
<line x1="714.80" y1="1158.00" x2="728.80" y2="1158.00" stroke="#000" stroke-width="3.8" stroke-linecap="round"/>
<polygon points="765.00,1133.93 758.46,1146.45 771.54,1146.45" fill="none" stroke="#000" stroke-width="2.3" stroke-linejoin="miter"/>
<polygon points="761.20,1144.43 754.66,1156.95 767.75,1156.95" fill="none" stroke="#000" stroke-width="2.3" stroke-linejoin="miter"/>
<polygon points="750.00,1159.43 743.46,1171.95 756.54,1171.95" fill="none" stroke="#000" stroke-width="2.3" stroke-linejoin="miter"/>
<polygon points="761.20,1154.43 754.66,1166.95 767.75,1166.95" fill="none" stroke="#000" stroke-width="2.3" stroke-linejoin="miter"/>
<polygon points="773.80,1159.43 767.25,1171.95 780.34,1171.95" fill="none" stroke="#000" stroke-width="2.3" stroke-linejoin="miter"/>
<polygon points="758.00,1178.23 751.46,1190.75 764.54,1190.75" fill="none" stroke="#000" stroke-width="2.3" stroke-linejoin="miter"/>
<polygon points="766.20,1178.23 759.66,1190.75 772.75,1190.75" fill="none" stroke="#000" stroke-width="2.3" stroke-linejoin="miter"/>
<line x1="750.40" y1="1158.00" x2="775.20" y2="1158.00" stroke="#000" stroke-width="3.8" stroke-linecap="round"/>
<line x1="762.80" y1="1153.00" x2="762.80" y2="1165.00" stroke="#000" stroke-width="3.8" stroke-linecap="butt"/>
<line x1="755.80" y1="1153.00" x2="769.80" y2="1153.00" stroke="#000" stroke-width="3.8" stroke-linecap="round"/>
<line x1="755.80" y1="1165.00" x2="769.80" y2="1165.00" stroke="#000" stroke-width="3.8" stroke-linecap="round"/>
<polygon points="812.50,817.00 805.30,831.40 819.70,831.40" fill="#000"/>
<polygon points="830.50,822.80 823.30,837.20 837.70,837.20" fill="#000"/>
<polygon points="823.50,834.00 816.30,848.40 830.70,848.40" fill="#000"/>
<polygon points="824.20,842.80 817.00,857.20 831.40,857.20" fill="#000"/>
<polygon points="824.20,850.30 817.00,864.70 831.40,864.70" fill="#000"/>
<polygon points="824.20,857.80 817.00,872.20 831.40,872.20" fill="#000"/>
<line x1="811.10" y1="845.50" x2="835.90" y2="845.50" stroke="#000" stroke-width="3.8" stroke-linecap="round"/>
<line x1="823.50" y1="839.20" x2="823.50" y2="852.50" stroke="#000" stroke-width="3.8" stroke-linecap="butt"/>
<line x1="816.50" y1="839.20" x2="830.50" y2="839.20" stroke="#000" stroke-width="3.8" stroke-linecap="round"/>
<line x1="816.50" y1="852.50" x2="830.50" y2="852.50" stroke="#000" stroke-width="3.8" stroke-linecap="round"/>
<polygon points="853.00,811.60 845.80,826.00 860.20,826.00" fill="#000"/>
<polygon points="871.80,819.00 864.60,833.40 879.00,833.40" fill="#000"/>
<polygon points="864.20,835.30 857.00,849.70 871.40,849.70" fill="#000"/>
<polygon points="864.20,844.00 857.00,858.40 871.40,858.40" fill="#000"/>
<polygon points="865.50,850.30 858.30,864.70 872.70,864.70" fill="#000"/>
<line x1="852.10" y1="841.20" x2="876.90" y2="841.20" stroke="#000" stroke-width="3.8" stroke-linecap="round"/>
<line x1="864.50" y1="834.50" x2="864.50" y2="848.00" stroke="#000" stroke-width="3.8" stroke-linecap="butt"/>
<line x1="857.50" y1="834.50" x2="871.50" y2="834.50" stroke="#000" stroke-width="3.8" stroke-linecap="round"/>
<line x1="857.50" y1="848.00" x2="871.50" y2="848.00" stroke="#000" stroke-width="3.8" stroke-linecap="round"/>
<polygon points="916.80,824.60 909.60,839.00 924.00,839.00" fill="#000"/>
<polygon points="898.50,831.60 891.30,846.00 905.70,846.00" fill="#000"/>
<polygon points="905.00,864.00 897.80,878.40 912.20,878.40" fill="#000"/>
<polygon points="893.80,879.00 886.60,893.40 901.00,893.40" fill="#000"/>
<polygon points="917.20,876.60 910.00,891.00 924.40,891.00" fill="#000"/>
<polygon points="909.20,884.00 902.00,898.40 916.40,898.40" fill="#000"/>
<polygon points="902.20,890.30 895.00,904.70 909.40,904.70" fill="#000"/>
<line x1="892.80" y1="863.80" x2="917.60" y2="863.80" stroke="#000" stroke-width="3.8" stroke-linecap="round"/>
<line x1="905.20" y1="853.20" x2="905.20" y2="875.00" stroke="#000" stroke-width="3.8" stroke-linecap="butt"/>
<line x1="898.20" y1="853.20" x2="912.20" y2="853.20" stroke="#000" stroke-width="3.8" stroke-linecap="round"/>
<line x1="898.20" y1="875.00" x2="912.20" y2="875.00" stroke="#000" stroke-width="3.8" stroke-linecap="round"/>
<polygon points="946.20,840.80 939.00,855.20 953.40,855.20" fill="#000"/>
<polygon points="946.20,877.80 939.00,892.20 953.40,892.20" fill="#000"/>
<polygon points="958.00,922.80 950.80,937.20 965.20,937.20" fill="#000"/>
<polygon points="934.80,929.80 927.60,944.20 942.00,944.20" fill="#000"/>
<polygon points="950.00,935.30 942.80,949.70 957.20,949.70" fill="#000"/>
<polygon points="943.00,944.00 935.80,958.40 950.20,958.40" fill="#000"/>
<line x1="933.80" y1="901.20" x2="958.60" y2="901.20" stroke="#000" stroke-width="3.8" stroke-linecap="round"/>
<line x1="946.20" y1="887.50" x2="946.20" y2="924.50" stroke="#000" stroke-width="3.8" stroke-linecap="butt"/>
<line x1="939.20" y1="887.50" x2="953.20" y2="887.50" stroke="#000" stroke-width="3.8" stroke-linecap="round"/>
<line x1="939.20" y1="924.50" x2="953.20" y2="924.50" stroke="#000" stroke-width="3.8" stroke-linecap="round"/>
<polygon points="987.20,865.80 980.00,880.20 994.40,880.20" fill="#000"/>
<polygon points="976.00,949.00 968.80,963.40 983.20,963.40" fill="#000"/>
<polygon points="986.00,947.80 978.80,962.20 993.20,962.20" fill="#000"/>
<polygon points="990.00,948.80 982.80,963.20 997.20,963.20" fill="#000"/>
<polygon points="994.20,971.60 987.00,986.00 1001.40,986.00" fill="#000"/>
<polygon points="987.20,1006.60 980.00,1021.00 994.40,1021.00" fill="#000"/>
<line x1="975.10" y1="934.20" x2="999.90" y2="934.20" stroke="#000" stroke-width="3.8" stroke-linecap="round"/>
<line x1="987.50" y1="916.80" x2="987.50" y2="962.50" stroke="#000" stroke-width="3.8" stroke-linecap="butt"/>
<line x1="980.50" y1="916.80" x2="994.50" y2="916.80" stroke="#000" stroke-width="3.8" stroke-linecap="round"/>
<line x1="980.50" y1="962.50" x2="994.50" y2="962.50" stroke="#000" stroke-width="3.8" stroke-linecap="round"/>
<line x1="128.30" y1="1318.90" x2="128.30" y2="1763.25" stroke="#000" stroke-width="5.1" stroke-linecap="butt"/>
<line x1="115.70" y1="1760.70" x2="127.30" y2="1760.70" stroke="#000" stroke-width="4.7" stroke-linecap="round"/>
<line x1="121.50" y1="1727.60" x2="127.30" y2="1727.60" stroke="#000" stroke-width="3.9" stroke-linecap="round"/>
<line x1="121.50" y1="1708.24" x2="127.30" y2="1708.24" stroke="#000" stroke-width="3.9" stroke-linecap="round"/>
<line x1="121.50" y1="1694.50" x2="127.30" y2="1694.50" stroke="#000" stroke-width="3.9" stroke-linecap="round"/>
<line x1="121.50" y1="1683.85" x2="127.30" y2="1683.85" stroke="#000" stroke-width="3.9" stroke-linecap="round"/>
<line x1="121.50" y1="1675.14" x2="127.30" y2="1675.14" stroke="#000" stroke-width="3.9" stroke-linecap="round"/>
<line x1="121.50" y1="1667.78" x2="127.30" y2="1667.78" stroke="#000" stroke-width="3.9" stroke-linecap="round"/>
<line x1="121.50" y1="1661.41" x2="127.30" y2="1661.41" stroke="#000" stroke-width="3.9" stroke-linecap="round"/>
<line x1="121.50" y1="1655.78" x2="127.30" y2="1655.78" stroke="#000" stroke-width="3.9" stroke-linecap="round"/>
<line x1="115.70" y1="1650.75" x2="127.30" y2="1650.75" stroke="#000" stroke-width="4.7" stroke-linecap="round"/>
<line x1="121.50" y1="1617.65" x2="127.30" y2="1617.65" stroke="#000" stroke-width="3.9" stroke-linecap="round"/>
<line x1="121.50" y1="1598.29" x2="127.30" y2="1598.29" stroke="#000" stroke-width="3.9" stroke-linecap="round"/>
<line x1="121.50" y1="1584.55" x2="127.30" y2="1584.55" stroke="#000" stroke-width="3.9" stroke-linecap="round"/>
<line x1="121.50" y1="1573.90" x2="127.30" y2="1573.90" stroke="#000" stroke-width="3.9" stroke-linecap="round"/>
<line x1="121.50" y1="1565.19" x2="127.30" y2="1565.19" stroke="#000" stroke-width="3.9" stroke-linecap="round"/>
<line x1="121.50" y1="1557.83" x2="127.30" y2="1557.83" stroke="#000" stroke-width="3.9" stroke-linecap="round"/>
<line x1="121.50" y1="1551.46" x2="127.30" y2="1551.46" stroke="#000" stroke-width="3.9" stroke-linecap="round"/>
<line x1="121.50" y1="1545.83" x2="127.30" y2="1545.83" stroke="#000" stroke-width="3.9" stroke-linecap="round"/>
<line x1="115.70" y1="1540.80" x2="127.30" y2="1540.80" stroke="#000" stroke-width="4.7" stroke-linecap="round"/>
<line x1="121.50" y1="1507.70" x2="127.30" y2="1507.70" stroke="#000" stroke-width="3.9" stroke-linecap="round"/>
<line x1="121.50" y1="1488.34" x2="127.30" y2="1488.34" stroke="#000" stroke-width="3.9" stroke-linecap="round"/>
<line x1="121.50" y1="1474.60" x2="127.30" y2="1474.60" stroke="#000" stroke-width="3.9" stroke-linecap="round"/>
<line x1="121.50" y1="1463.95" x2="127.30" y2="1463.95" stroke="#000" stroke-width="3.9" stroke-linecap="round"/>
<line x1="121.50" y1="1455.24" x2="127.30" y2="1455.24" stroke="#000" stroke-width="3.9" stroke-linecap="round"/>
<line x1="121.50" y1="1447.88" x2="127.30" y2="1447.88" stroke="#000" stroke-width="3.9" stroke-linecap="round"/>
<line x1="121.50" y1="1441.51" x2="127.30" y2="1441.51" stroke="#000" stroke-width="3.9" stroke-linecap="round"/>
<line x1="121.50" y1="1435.88" x2="127.30" y2="1435.88" stroke="#000" stroke-width="3.9" stroke-linecap="round"/>
<line x1="115.70" y1="1430.85" x2="127.30" y2="1430.85" stroke="#000" stroke-width="4.7" stroke-linecap="round"/>
<line x1="121.50" y1="1397.75" x2="127.30" y2="1397.75" stroke="#000" stroke-width="3.9" stroke-linecap="round"/>
<line x1="121.50" y1="1378.39" x2="127.30" y2="1378.39" stroke="#000" stroke-width="3.9" stroke-linecap="round"/>
<line x1="121.50" y1="1364.65" x2="127.30" y2="1364.65" stroke="#000" stroke-width="3.9" stroke-linecap="round"/>
<line x1="121.50" y1="1354.00" x2="127.30" y2="1354.00" stroke="#000" stroke-width="3.9" stroke-linecap="round"/>
<line x1="121.50" y1="1345.29" x2="127.30" y2="1345.29" stroke="#000" stroke-width="3.9" stroke-linecap="round"/>
<line x1="121.50" y1="1337.93" x2="127.30" y2="1337.93" stroke="#000" stroke-width="3.9" stroke-linecap="round"/>
<line x1="121.50" y1="1331.56" x2="127.30" y2="1331.56" stroke="#000" stroke-width="3.9" stroke-linecap="round"/>
<line x1="121.50" y1="1325.93" x2="127.30" y2="1325.93" stroke="#000" stroke-width="3.9" stroke-linecap="round"/>
<line x1="115.70" y1="1320.90" x2="127.30" y2="1320.90" stroke="#000" stroke-width="4.7" stroke-linecap="round"/>
<line x1="113.50" y1="1760.70" x2="1016.80" y2="1760.70" stroke="#000" stroke-width="5.1" stroke-linecap="butt"/>
<line x1="148.20" y1="1760.70" x2="148.20" y2="1767.00" stroke="#000" stroke-width="4.6" stroke-linecap="round"/>
<text x="148.50" y="1801.70" font-size="27.4" text-anchor="middle" letter-spacing="-0.9">4</text>
<line x1="188.70" y1="1760.70" x2="188.70" y2="1767.00" stroke="#000" stroke-width="4.6" stroke-linecap="round"/>
<text x="189.00" y="1801.70" font-size="27.4" text-anchor="middle" letter-spacing="-0.9">8</text>
<line x1="229.20" y1="1760.70" x2="229.20" y2="1767.00" stroke="#000" stroke-width="4.6" stroke-linecap="round"/>
<text x="229.50" y="1801.70" font-size="27.4" text-anchor="middle" letter-spacing="-0.9">12</text>
<line x1="269.70" y1="1760.70" x2="269.70" y2="1767.00" stroke="#000" stroke-width="4.6" stroke-linecap="round"/>
<text x="270.00" y="1801.70" font-size="27.4" text-anchor="middle" letter-spacing="-0.9">24</text>
<line x1="310.20" y1="1760.70" x2="310.20" y2="1767.00" stroke="#000" stroke-width="4.6" stroke-linecap="round"/>
<text x="310.50" y="1801.70" font-size="27.4" text-anchor="middle" letter-spacing="-0.9">36</text>
<line x1="378.30" y1="1760.70" x2="378.30" y2="1767.00" stroke="#000" stroke-width="4.6" stroke-linecap="round"/>
<text x="378.60" y="1801.70" font-size="27.4" text-anchor="middle" letter-spacing="-0.9">4</text>
<line x1="418.70" y1="1760.70" x2="418.70" y2="1767.00" stroke="#000" stroke-width="4.6" stroke-linecap="round"/>
<text x="419.00" y="1801.70" font-size="27.4" text-anchor="middle" letter-spacing="-0.9">8</text>
<line x1="459.20" y1="1760.70" x2="459.20" y2="1767.00" stroke="#000" stroke-width="4.6" stroke-linecap="round"/>
<text x="459.50" y="1801.70" font-size="27.4" text-anchor="middle" letter-spacing="-0.9">12</text>
<line x1="499.70" y1="1760.70" x2="499.70" y2="1767.00" stroke="#000" stroke-width="4.6" stroke-linecap="round"/>
<text x="500.00" y="1801.70" font-size="27.4" text-anchor="middle" letter-spacing="-0.9">24</text>
<line x1="540.00" y1="1760.70" x2="540.00" y2="1767.00" stroke="#000" stroke-width="4.6" stroke-linecap="round"/>
<text x="540.30" y="1801.70" font-size="27.4" text-anchor="middle" letter-spacing="-0.9">36</text>
<line x1="608.00" y1="1760.70" x2="608.00" y2="1767.00" stroke="#000" stroke-width="4.6" stroke-linecap="round"/>
<text x="608.30" y="1801.70" font-size="27.4" text-anchor="middle" letter-spacing="-0.9">4</text>
<line x1="648.50" y1="1760.70" x2="648.50" y2="1767.00" stroke="#000" stroke-width="4.6" stroke-linecap="round"/>
<text x="648.80" y="1801.70" font-size="27.4" text-anchor="middle" letter-spacing="-0.9">8</text>
<line x1="689.00" y1="1760.70" x2="689.00" y2="1767.00" stroke="#000" stroke-width="4.6" stroke-linecap="round"/>
<text x="689.30" y="1801.70" font-size="27.4" text-anchor="middle" letter-spacing="-0.9">12</text>
<line x1="729.50" y1="1760.70" x2="729.50" y2="1767.00" stroke="#000" stroke-width="4.6" stroke-linecap="round"/>
<text x="729.80" y="1801.70" font-size="27.4" text-anchor="middle" letter-spacing="-0.9">24</text>
<line x1="770.00" y1="1760.70" x2="770.00" y2="1767.00" stroke="#000" stroke-width="4.6" stroke-linecap="round"/>
<text x="770.30" y="1801.70" font-size="27.4" text-anchor="middle" letter-spacing="-0.9">36</text>
<line x1="838.00" y1="1760.70" x2="838.00" y2="1767.00" stroke="#000" stroke-width="4.6" stroke-linecap="round"/>
<text x="838.30" y="1801.70" font-size="27.4" text-anchor="middle" letter-spacing="-0.9">4</text>
<line x1="878.50" y1="1760.70" x2="878.50" y2="1767.00" stroke="#000" stroke-width="4.6" stroke-linecap="round"/>
<text x="878.80" y="1801.70" font-size="27.4" text-anchor="middle" letter-spacing="-0.9">8</text>
<line x1="919.00" y1="1760.70" x2="919.00" y2="1767.00" stroke="#000" stroke-width="4.6" stroke-linecap="round"/>
<text x="919.30" y="1801.70" font-size="27.4" text-anchor="middle" letter-spacing="-0.9">12</text>
<line x1="959.50" y1="1760.70" x2="959.50" y2="1767.00" stroke="#000" stroke-width="4.6" stroke-linecap="round"/>
<text x="959.80" y="1801.70" font-size="27.4" text-anchor="middle" letter-spacing="-0.9">24</text>
<line x1="1000.00" y1="1760.70" x2="1000.00" y2="1767.00" stroke="#000" stroke-width="4.6" stroke-linecap="round"/>
<text x="1000.30" y="1801.70" font-size="27.4" text-anchor="middle" letter-spacing="-0.9">36</text>
<text x="119.50" y="1804.30" font-size="27.4" text-anchor="start">w</text>
<text x="64.90" y="1773.40" font-size="27.4" text-anchor="start">1</text>
<text x="77.00" y="1773.40" font-size="27.4" text-anchor="start">0</text>
<text x="93.00" y="1761.90" font-size="19.8" text-anchor="start">1</text>
<text x="64.90" y="1663.45" font-size="27.4" text-anchor="start">1</text>
<text x="77.00" y="1663.45" font-size="27.4" text-anchor="start">0</text>
<text x="93.00" y="1651.95" font-size="19.8" text-anchor="start">2</text>
<text x="64.90" y="1553.50" font-size="27.4" text-anchor="start">1</text>
<text x="77.00" y="1553.50" font-size="27.4" text-anchor="start">0</text>
<text x="93.00" y="1542.00" font-size="19.8" text-anchor="start">3</text>
<text x="64.90" y="1443.55" font-size="27.4" text-anchor="start">1</text>
<text x="77.00" y="1443.55" font-size="27.4" text-anchor="start">0</text>
<text x="93.00" y="1432.05" font-size="19.8" text-anchor="start">4</text>
<text x="64.90" y="1333.60" font-size="27.4" text-anchor="start">1</text>
<text x="77.00" y="1333.60" font-size="27.4" text-anchor="start">0</text>
<text x="93.00" y="1322.10" font-size="19.8" text-anchor="start">5</text>
<text transform="translate(49.4 1679.1) rotate(-90)" font-size="27.4" textLength="269.4" lengthAdjust="spacing">Serum IgG2a anti-gp160</text>
<line x1="145.00" y1="1410.50" x2="378.80" y2="1410.50" stroke="#000" stroke-width="3.2" stroke-linecap="butt"/>
<text x="262.50" y="1392.50" font-size="27.4" text-anchor="middle">n.s.</text>
<line x1="378.50" y1="1353.40" x2="837.50" y2="1353.40" stroke="#000" stroke-width="3.2" stroke-linecap="butt"/>
<polygon points="606.00,1334.05 613.70,1334.65 613.70,1332.35 606.00,1332.95" fill="#000"/>
<polygon points="605.52,1333.78 608.85,1340.74 610.85,1339.59 606.48,1333.22" fill="#000"/>
<polygon points="605.52,1333.22 601.15,1339.59 603.15,1340.74 606.48,1333.78" fill="#000"/>
<polygon points="606.00,1332.95 598.30,1332.35 598.30,1334.65 606.00,1334.05" fill="#000"/>
<polygon points="606.48,1333.22 603.15,1326.26 601.15,1327.41 605.52,1333.78" fill="#000"/>
<polygon points="606.48,1333.78 610.85,1327.41 608.85,1326.26 605.52,1333.22" fill="#000"/>
<circle cx="606.00" cy="1333.50" r="1.3" fill="#000"/>
<circle cx="147.50" cy="1637.50" r="6.9" fill="none" stroke="#000" stroke-width="2.3"/>
<circle cx="145.00" cy="1642.50" r="6.9" fill="none" stroke="#000" stroke-width="2.3"/>
<circle cx="151.20" cy="1645.00" r="6.9" fill="none" stroke="#000" stroke-width="2.3"/>
<circle cx="148.00" cy="1663.00" r="6.9" fill="none" stroke="#000" stroke-width="2.3"/>
<circle cx="137.00" cy="1695.00" r="6.9" fill="none" stroke="#000" stroke-width="2.3"/>
<circle cx="154.50" cy="1695.00" r="6.9" fill="none" stroke="#000" stroke-width="2.3"/>
<circle cx="148.20" cy="1728.20" r="6.9" fill="none" stroke="#000" stroke-width="2.3"/>
<line x1="135.70" y1="1663.00" x2="160.50" y2="1663.00" stroke="#000" stroke-width="3.8" stroke-linecap="round"/>
<line x1="148.10" y1="1653.00" x2="148.10" y2="1675.00" stroke="#000" stroke-width="3.8" stroke-linecap="butt"/>
<line x1="141.10" y1="1653.00" x2="155.10" y2="1653.00" stroke="#000" stroke-width="3.8" stroke-linecap="round"/>
<line x1="141.10" y1="1675.00" x2="155.10" y2="1675.00" stroke="#000" stroke-width="3.8" stroke-linecap="round"/>
<circle cx="185.80" cy="1646.20" r="6.9" fill="none" stroke="#000" stroke-width="2.3"/>
<circle cx="192.00" cy="1650.00" r="6.9" fill="none" stroke="#000" stroke-width="2.3"/>
<circle cx="188.80" cy="1656.20" r="6.9" fill="none" stroke="#000" stroke-width="2.3"/>
<circle cx="177.00" cy="1684.20" r="6.9" fill="none" stroke="#000" stroke-width="2.3"/>
<circle cx="195.50" cy="1695.00" r="6.9" fill="none" stroke="#000" stroke-width="2.3"/>
<circle cx="200.00" cy="1708.80" r="6.9" fill="none" stroke="#000" stroke-width="2.3"/>
<circle cx="182.00" cy="1728.20" r="6.9" fill="none" stroke="#000" stroke-width="2.3"/>
<line x1="176.50" y1="1673.80" x2="201.30" y2="1673.80" stroke="#000" stroke-width="3.8" stroke-linecap="round"/>
<line x1="188.90" y1="1663.80" x2="188.90" y2="1683.80" stroke="#000" stroke-width="3.8" stroke-linecap="butt"/>
<line x1="181.90" y1="1663.80" x2="195.90" y2="1663.80" stroke="#000" stroke-width="3.8" stroke-linecap="round"/>
<line x1="181.90" y1="1683.80" x2="195.90" y2="1683.80" stroke="#000" stroke-width="3.8" stroke-linecap="round"/>
<circle cx="217.50" cy="1695.00" r="6.9" fill="none" stroke="#000" stroke-width="2.3"/>
<circle cx="236.20" cy="1695.00" r="6.9" fill="none" stroke="#000" stroke-width="2.3"/>
<circle cx="225.80" cy="1708.80" r="6.9" fill="none" stroke="#000" stroke-width="3.6"/>
<circle cx="228.80" cy="1708.80" r="6.9" fill="none" stroke="#000" stroke-width="3.6"/>
<circle cx="231.80" cy="1708.80" r="6.9" fill="none" stroke="#000" stroke-width="3.6"/>
<circle cx="229.20" cy="1728.20" r="6.7" fill="none" stroke="#000" stroke-width="3.4"/>
<line x1="216.70" y1="1708.80" x2="241.50" y2="1708.80" stroke="#000" stroke-width="3.8" stroke-linecap="round"/>
<line x1="229.10" y1="1706.00" x2="229.10" y2="1711.50" stroke="#000" stroke-width="3.8" stroke-linecap="butt"/>
<line x1="222.10" y1="1706.00" x2="236.10" y2="1706.00" stroke="#000" stroke-width="3.8" stroke-linecap="round"/>
<line x1="222.10" y1="1711.50" x2="236.10" y2="1711.50" stroke="#000" stroke-width="3.8" stroke-linecap="round"/>
<circle cx="269.00" cy="1708.80" r="6.9" fill="none" stroke="#000" stroke-width="3.2"/>
<circle cx="270.00" cy="1708.80" r="6.9" fill="none" stroke="#000" stroke-width="3.2"/>
<circle cx="269.50" cy="1728.20" r="6.7" fill="none" stroke="#000" stroke-width="3.4"/>
<line x1="257.20" y1="1715.80" x2="282.00" y2="1715.80" stroke="#000" stroke-width="3.8" stroke-linecap="round"/>
<line x1="269.60" y1="1712.00" x2="269.60" y2="1719.50" stroke="#000" stroke-width="3.8" stroke-linecap="butt"/>
<line x1="262.60" y1="1712.00" x2="276.60" y2="1712.00" stroke="#000" stroke-width="3.8" stroke-linecap="round"/>
<line x1="262.60" y1="1719.50" x2="276.60" y2="1719.50" stroke="#000" stroke-width="3.8" stroke-linecap="round"/>
<circle cx="309.60" cy="1708.80" r="6.9" fill="none" stroke="#000" stroke-width="3.2"/>
<circle cx="310.60" cy="1708.80" r="6.9" fill="none" stroke="#000" stroke-width="3.2"/>
<circle cx="310.00" cy="1728.20" r="6.9" fill="none" stroke="#000" stroke-width="2.3"/>
<line x1="297.80" y1="1714.20" x2="322.60" y2="1714.20" stroke="#000" stroke-width="3.8" stroke-linecap="round"/>
<line x1="310.20" y1="1710.00" x2="310.20" y2="1721.00" stroke="#000" stroke-width="3.8" stroke-linecap="butt"/>
<line x1="303.20" y1="1710.00" x2="317.20" y2="1710.00" stroke="#000" stroke-width="3.8" stroke-linecap="round"/>
<line x1="303.20" y1="1721.00" x2="317.20" y2="1721.00" stroke="#000" stroke-width="3.8" stroke-linecap="round"/>
<circle cx="378.00" cy="1450.00" r="7.2" fill="#000"/>
<circle cx="378.00" cy="1510.80" r="7.2" fill="#000"/>
<circle cx="378.00" cy="1553.00" r="7.2" fill="#000"/>
<circle cx="378.00" cy="1580.00" r="7.2" fill="#000"/>
<circle cx="378.00" cy="1620.50" r="7.2" fill="#000"/>
<circle cx="389.20" cy="1638.80" r="7.2" fill="#000"/>
<circle cx="371.20" cy="1655.80" r="7.2" fill="#000"/>
<line x1="365.60" y1="1523.00" x2="390.40" y2="1523.00" stroke="#000" stroke-width="3.8" stroke-linecap="round"/>
<line x1="378.00" y1="1500.00" x2="378.00" y2="1569.50" stroke="#000" stroke-width="3.8" stroke-linecap="butt"/>
<line x1="371.00" y1="1500.00" x2="385.00" y2="1500.00" stroke="#000" stroke-width="3.8" stroke-linecap="round"/>
<line x1="371.00" y1="1569.50" x2="385.00" y2="1569.50" stroke="#000" stroke-width="3.8" stroke-linecap="round"/>
<circle cx="418.50" cy="1469.50" r="7.2" fill="#000"/>
<circle cx="418.50" cy="1500.80" r="7.2" fill="#000"/>
<circle cx="418.50" cy="1568.80" r="7.2" fill="#000"/>
<circle cx="418.50" cy="1613.20" r="7.2" fill="#000"/>
<circle cx="407.00" cy="1648.20" r="7.2" fill="#000"/>
<circle cx="425.00" cy="1650.80" r="7.2" fill="#000"/>
<circle cx="418.50" cy="1675.50" r="7.2" fill="#000"/>
<line x1="406.10" y1="1536.20" x2="430.90" y2="1536.20" stroke="#000" stroke-width="3.8" stroke-linecap="round"/>
<line x1="418.50" y1="1514.50" x2="418.50" y2="1576.20" stroke="#000" stroke-width="3.8" stroke-linecap="butt"/>
<line x1="411.50" y1="1514.50" x2="425.50" y2="1514.50" stroke="#000" stroke-width="3.8" stroke-linecap="round"/>
<line x1="411.50" y1="1576.20" x2="425.50" y2="1576.20" stroke="#000" stroke-width="3.8" stroke-linecap="round"/>
<circle cx="447.50" cy="1537.50" r="7.2" fill="#000"/>
<circle cx="465.50" cy="1548.20" r="7.2" fill="#000"/>
<circle cx="458.80" cy="1611.20" r="7.2" fill="#000"/>
<circle cx="458.80" cy="1655.80" r="7.2" fill="#000"/>
<circle cx="456.20" cy="1675.00" r="7.2" fill="#000"/>
<circle cx="462.00" cy="1683.80" r="7.2" fill="#000"/>
<circle cx="458.80" cy="1695.00" r="7.2" fill="#000"/>
<line x1="446.70" y1="1592.00" x2="471.50" y2="1592.00" stroke="#000" stroke-width="3.8" stroke-linecap="round"/>
<line x1="459.10" y1="1572.50" x2="459.10" y2="1623.00" stroke="#000" stroke-width="3.8" stroke-linecap="butt"/>
<line x1="452.10" y1="1572.50" x2="466.10" y2="1572.50" stroke="#000" stroke-width="3.8" stroke-linecap="round"/>
<line x1="452.10" y1="1623.00" x2="466.10" y2="1623.00" stroke="#000" stroke-width="3.8" stroke-linecap="round"/>
<circle cx="499.50" cy="1563.00" r="7.2" fill="#000"/>
<circle cx="499.50" cy="1607.00" r="7.2" fill="#000"/>
<circle cx="499.50" cy="1661.20" r="7.2" fill="#000"/>
<circle cx="488.00" cy="1708.80" r="7.2" fill="#000"/>
<circle cx="502.50" cy="1708.80" r="7.2" fill="#000"/>
<circle cx="511.20" cy="1708.80" r="7.2" fill="#000"/>
<circle cx="496.20" cy="1728.20" r="7.2" fill="#000"/>
<line x1="487.20" y1="1629.50" x2="512.00" y2="1629.50" stroke="#000" stroke-width="3.8" stroke-linecap="round"/>
<line x1="499.60" y1="1607.50" x2="499.60" y2="1669.20" stroke="#000" stroke-width="3.8" stroke-linecap="butt"/>
<line x1="492.60" y1="1607.50" x2="506.60" y2="1607.50" stroke="#000" stroke-width="3.8" stroke-linecap="round"/>
<line x1="492.60" y1="1669.20" x2="506.60" y2="1669.20" stroke="#000" stroke-width="3.8" stroke-linecap="round"/>
<circle cx="551.20" cy="1638.80" r="7.2" fill="#000"/>
<circle cx="533.20" cy="1646.80" r="7.2" fill="#000"/>
<circle cx="539.20" cy="1695.00" r="7.2" fill="#000"/>
<circle cx="551.20" cy="1708.80" r="7.2" fill="#000"/>
<circle cx="528.80" cy="1728.20" r="7.2" fill="#000"/>
<circle cx="537.00" cy="1728.20" r="7.2" fill="#000"/>
<circle cx="543.00" cy="1728.20" r="7.2" fill="#000"/>
<line x1="527.60" y1="1681.80" x2="552.40" y2="1681.80" stroke="#000" stroke-width="3.8" stroke-linecap="round"/>
<line x1="540.00" y1="1667.50" x2="540.00" y2="1700.80" stroke="#000" stroke-width="3.8" stroke-linecap="butt"/>
<line x1="533.00" y1="1667.50" x2="547.00" y2="1667.50" stroke="#000" stroke-width="3.8" stroke-linecap="round"/>
<line x1="533.00" y1="1700.80" x2="547.00" y2="1700.80" stroke="#000" stroke-width="3.8" stroke-linecap="round"/>
<polygon points="596.20,1555.63 589.66,1568.15 602.75,1568.15" fill="none" stroke="#000" stroke-width="2.3" stroke-linejoin="miter"/>
<polygon points="614.50,1564.43 607.96,1576.95 621.04,1576.95" fill="none" stroke="#000" stroke-width="2.3" stroke-linejoin="miter"/>
<polygon points="618.80,1580.63 612.25,1593.15 625.34,1593.15" fill="none" stroke="#000" stroke-width="2.3" stroke-linejoin="miter"/>
<polygon points="601.20,1586.93 594.66,1599.45 607.75,1599.45" fill="none" stroke="#000" stroke-width="2.3" stroke-linejoin="miter"/>
<polygon points="596.20,1610.63 589.66,1623.15 602.75,1623.15" fill="none" stroke="#000" stroke-width="2.3" stroke-linejoin="miter"/>
<polygon points="614.50,1624.93 607.96,1637.45 621.04,1637.45" fill="none" stroke="#000" stroke-width="2.3" stroke-linejoin="miter"/>
<polygon points="607.50,1656.93 600.96,1669.45 614.04,1669.45" fill="none" stroke="#000" stroke-width="2.3" stroke-linejoin="miter"/>
<line x1="595.40" y1="1593.20" x2="620.20" y2="1593.20" stroke="#000" stroke-width="3.8" stroke-linecap="round"/>
<line x1="607.80" y1="1582.00" x2="607.80" y2="1605.00" stroke="#000" stroke-width="3.8" stroke-linecap="butt"/>
<line x1="600.80" y1="1582.00" x2="614.80" y2="1582.00" stroke="#000" stroke-width="3.8" stroke-linecap="round"/>
<line x1="600.80" y1="1605.00" x2="614.80" y2="1605.00" stroke="#000" stroke-width="3.8" stroke-linecap="round"/>
<polygon points="645.80,1595.23 639.25,1607.75 652.34,1607.75" fill="none" stroke="#000" stroke-width="2.3" stroke-linejoin="miter"/>
<polygon points="649.50,1610.63 642.96,1623.15 656.04,1623.15" fill="none" stroke="#000" stroke-width="2.3" stroke-linejoin="miter"/>
<polygon points="650.30,1610.63 643.75,1623.15 656.84,1623.15" fill="none" stroke="#000" stroke-width="2.3" stroke-linejoin="miter"/>
<polygon points="636.20,1634.43 629.66,1646.95 642.75,1646.95" fill="none" stroke="#000" stroke-width="2.3" stroke-linejoin="miter"/>
<polygon points="654.50,1650.63 647.96,1663.15 661.04,1663.15" fill="none" stroke="#000" stroke-width="2.3" stroke-linejoin="miter"/>
<polygon points="659.20,1670.63 652.66,1683.15 665.75,1683.15" fill="none" stroke="#000" stroke-width="2.3" stroke-linejoin="miter"/>
<polygon points="641.80,1690.23 635.25,1702.75 648.34,1702.75" fill="none" stroke="#000" stroke-width="2.3" stroke-linejoin="miter"/>
<line x1="636.00" y1="1633.00" x2="660.80" y2="1633.00" stroke="#000" stroke-width="3.8" stroke-linecap="round"/>
<line x1="648.40" y1="1624.50" x2="648.40" y2="1646.20" stroke="#000" stroke-width="3.8" stroke-linecap="butt"/>
<line x1="641.40" y1="1624.50" x2="655.40" y2="1624.50" stroke="#000" stroke-width="3.8" stroke-linecap="round"/>
<line x1="641.40" y1="1646.20" x2="655.40" y2="1646.20" stroke="#000" stroke-width="3.8" stroke-linecap="round"/>
<polygon points="688.80,1626.43 682.25,1638.95 695.34,1638.95" fill="none" stroke="#000" stroke-width="2.3" stroke-linejoin="miter"/>
<polygon points="691.80,1637.63 685.25,1650.15 698.34,1650.15" fill="none" stroke="#000" stroke-width="2.3" stroke-linejoin="miter"/>
<polygon points="686.20,1644.43 679.66,1656.95 692.75,1656.95" fill="none" stroke="#000" stroke-width="2.3" stroke-linejoin="miter"/>
<polygon points="687.00,1644.43 680.46,1656.95 693.54,1656.95" fill="none" stroke="#000" stroke-width="2.3" stroke-linejoin="miter"/>
<polygon points="686.20,1690.23 679.66,1702.75 692.75,1702.75" fill="none" stroke="#000" stroke-width="2.3" stroke-linejoin="miter"/>
<polygon points="690.00,1704.93 683.46,1717.45 696.54,1717.45" fill="none" stroke="#000" stroke-width="2.3" stroke-linejoin="miter"/>
<polygon points="690.80,1704.93 684.25,1717.45 697.34,1717.45" fill="none" stroke="#000" stroke-width="2.3" stroke-linejoin="miter"/>
<line x1="676.20" y1="1661.20" x2="701.00" y2="1661.20" stroke="#000" stroke-width="3.8" stroke-linecap="round"/>
<line x1="688.60" y1="1652.50" x2="688.60" y2="1672.50" stroke="#000" stroke-width="3.8" stroke-linecap="butt"/>
<line x1="681.60" y1="1652.50" x2="695.60" y2="1652.50" stroke="#000" stroke-width="3.8" stroke-linecap="round"/>
<line x1="681.60" y1="1672.50" x2="695.60" y2="1672.50" stroke="#000" stroke-width="3.8" stroke-linecap="round"/>
<polygon points="740.50,1656.93 733.96,1669.45 747.04,1669.45" fill="none" stroke="#000" stroke-width="2.3" stroke-linejoin="miter"/>
<polygon points="722.50,1663.23 715.96,1675.75 729.04,1675.75" fill="none" stroke="#000" stroke-width="2.3" stroke-linejoin="miter"/>
<polygon points="728.80,1690.63 722.25,1703.15 735.34,1703.15" fill="none" stroke="#000" stroke-width="2.3" stroke-linejoin="miter"/>
<polygon points="718.00,1704.93 711.46,1717.45 724.54,1717.45" fill="none" stroke="#000" stroke-width="2.3" stroke-linejoin="miter"/>
<polygon points="740.50,1704.93 733.96,1717.45 747.04,1717.45" fill="none" stroke="#000" stroke-width="2.3" stroke-linejoin="miter"/>
<polygon points="725.50,1723.63 718.96,1736.15 732.04,1736.15" fill="none" stroke="#000" stroke-width="2.3" stroke-linejoin="miter"/>
<polygon points="733.00,1723.63 726.46,1736.15 739.54,1736.15" fill="none" stroke="#000" stroke-width="2.3" stroke-linejoin="miter"/>
<line x1="717.00" y1="1692.50" x2="741.80" y2="1692.50" stroke="#000" stroke-width="3.8" stroke-linecap="round"/>
<line x1="729.40" y1="1683.20" x2="729.40" y2="1705.00" stroke="#000" stroke-width="3.8" stroke-linecap="butt"/>
<line x1="722.40" y1="1683.20" x2="736.40" y2="1683.20" stroke="#000" stroke-width="3.8" stroke-linecap="round"/>
<line x1="722.40" y1="1705.00" x2="736.40" y2="1705.00" stroke="#000" stroke-width="3.8" stroke-linecap="round"/>
<polygon points="770.00,1690.23 763.46,1702.75 776.54,1702.75" fill="none" stroke="#000" stroke-width="2.3" stroke-linejoin="miter"/>
<polygon points="781.20,1704.43 774.66,1716.95 787.75,1716.95" fill="none" stroke="#000" stroke-width="2.3" stroke-linejoin="miter"/>
<polygon points="765.00,1706.43 758.46,1718.95 771.54,1718.95" fill="none" stroke="#000" stroke-width="2.3" stroke-linejoin="miter"/>
<polygon points="768.80,1706.93 762.25,1719.45 775.34,1719.45" fill="none" stroke="#000" stroke-width="2.3" stroke-linejoin="miter"/>
<polygon points="772.00,1706.43 765.46,1718.95 778.54,1718.95" fill="none" stroke="#000" stroke-width="2.3" stroke-linejoin="miter"/>
<polygon points="758.00,1723.63 751.46,1736.15 764.54,1736.15" fill="none" stroke="#000" stroke-width="2.3" stroke-linejoin="miter"/>
<polygon points="767.50,1723.63 760.96,1736.15 774.04,1736.15" fill="none" stroke="#000" stroke-width="2.3" stroke-linejoin="miter"/>
<polygon points="772.00,1723.63 765.46,1736.15 778.54,1736.15" fill="none" stroke="#000" stroke-width="2.3" stroke-linejoin="miter"/>
<line x1="755.80" y1="1713.20" x2="780.60" y2="1713.20" stroke="#000" stroke-width="3.8" stroke-linecap="round"/>
<line x1="768.20" y1="1710.50" x2="768.20" y2="1716.00" stroke="#000" stroke-width="3.8" stroke-linecap="butt"/>
<line x1="761.20" y1="1710.50" x2="775.20" y2="1710.50" stroke="#000" stroke-width="3.8" stroke-linecap="round"/>
<line x1="761.20" y1="1716.00" x2="775.20" y2="1716.00" stroke="#000" stroke-width="3.8" stroke-linecap="round"/>
<polygon points="848.50,1379.00 841.30,1393.40 855.70,1393.40" fill="#000"/>
<polygon points="830.50,1394.80 823.30,1409.20 837.70,1409.20" fill="#000"/>
<polygon points="826.00,1402.80 818.80,1417.20 833.20,1417.20" fill="#000"/>
<polygon points="844.20,1424.00 837.00,1438.40 851.40,1438.40" fill="#000"/>
<polygon points="835.00,1430.30 827.80,1444.70 842.20,1444.70" fill="#000"/>
<polygon points="840.00,1444.00 832.80,1458.40 847.20,1458.40" fill="#000"/>
<polygon points="837.50,1452.80 830.30,1467.20 844.70,1467.20" fill="#000"/>
<line x1="825.20" y1="1418.20" x2="850.00" y2="1418.20" stroke="#000" stroke-width="3.8" stroke-linecap="round"/>
<line x1="837.60" y1="1408.80" x2="837.60" y2="1429.50" stroke="#000" stroke-width="3.8" stroke-linecap="butt"/>
<line x1="830.60" y1="1408.80" x2="844.60" y2="1408.80" stroke="#000" stroke-width="3.8" stroke-linecap="round"/>
<line x1="830.60" y1="1429.50" x2="844.60" y2="1429.50" stroke="#000" stroke-width="3.8" stroke-linecap="round"/>
<polygon points="875.00,1400.30 867.80,1414.70 882.20,1414.70" fill="#000"/>
<polygon points="881.80,1401.60 874.60,1416.00 889.00,1416.00" fill="#000"/>
<polygon points="878.00,1412.80 870.80,1427.20 885.20,1427.20" fill="#000"/>
<polygon points="878.00,1432.80 870.80,1447.20 885.20,1447.20" fill="#000"/>
<polygon points="875.50,1447.80 868.30,1462.20 882.70,1462.20" fill="#000"/>
<polygon points="880.50,1456.60 873.30,1471.00 887.70,1471.00" fill="#000"/>
<polygon points="878.00,1462.80 870.80,1477.20 885.20,1477.20" fill="#000"/>
<line x1="865.70" y1="1431.80" x2="890.50" y2="1431.80" stroke="#000" stroke-width="3.8" stroke-linecap="round"/>
<line x1="878.10" y1="1422.00" x2="878.10" y2="1442.50" stroke="#000" stroke-width="3.8" stroke-linecap="butt"/>
<line x1="871.10" y1="1422.00" x2="885.10" y2="1422.00" stroke="#000" stroke-width="3.8" stroke-linecap="round"/>
<line x1="871.10" y1="1442.50" x2="885.10" y2="1442.50" stroke="#000" stroke-width="3.8" stroke-linecap="round"/>
<polygon points="921.00,1417.80 913.80,1432.20 928.20,1432.20" fill="#000"/>
<polygon points="917.50,1430.30 910.30,1444.70 924.70,1444.70" fill="#000"/>
<polygon points="919.20,1435.30 912.00,1449.70 926.40,1449.70" fill="#000"/>
<polygon points="930.00,1465.80 922.80,1480.20 937.20,1480.20" fill="#000"/>
<polygon points="906.80,1469.80 899.60,1484.20 914.00,1484.20" fill="#000"/>
<polygon points="921.80,1480.30 914.60,1494.70 929.00,1494.70" fill="#000"/>
<polygon points="915.00,1484.00 907.80,1498.40 922.20,1498.40" fill="#000"/>
<line x1="906.00" y1="1453.80" x2="930.80" y2="1453.80" stroke="#000" stroke-width="3.8" stroke-linecap="round"/>
<line x1="918.40" y1="1445.00" x2="918.40" y2="1464.50" stroke="#000" stroke-width="3.8" stroke-linecap="butt"/>
<line x1="911.40" y1="1445.00" x2="925.40" y2="1445.00" stroke="#000" stroke-width="3.8" stroke-linecap="round"/>
<line x1="911.40" y1="1464.50" x2="925.40" y2="1464.50" stroke="#000" stroke-width="3.8" stroke-linecap="round"/>
<polygon points="961.80,1493.30 954.60,1507.70 969.00,1507.70" fill="#000"/>
<polygon points="956.80,1501.60 949.60,1516.00 964.00,1516.00" fill="#000"/>
<polygon points="960.50,1509.00 953.30,1523.40 967.70,1523.40" fill="#000"/>
<polygon points="970.00,1525.30 962.80,1539.70 977.20,1539.70" fill="#000"/>
<polygon points="947.50,1532.80 940.30,1547.20 954.70,1547.20" fill="#000"/>
<polygon points="962.50,1540.30 955.30,1554.70 969.70,1554.70" fill="#000"/>
<polygon points="955.50,1541.60 948.30,1556.00 962.70,1556.00" fill="#000"/>
<line x1="946.70" y1="1522.50" x2="971.50" y2="1522.50" stroke="#000" stroke-width="3.8" stroke-linecap="round"/>
<line x1="959.10" y1="1516.20" x2="959.10" y2="1529.50" stroke="#000" stroke-width="3.8" stroke-linecap="butt"/>
<line x1="952.10" y1="1516.20" x2="966.10" y2="1516.20" stroke="#000" stroke-width="3.8" stroke-linecap="round"/>
<line x1="952.10" y1="1529.50" x2="966.10" y2="1529.50" stroke="#000" stroke-width="3.8" stroke-linecap="round"/>
<polygon points="1010.80,1573.30 1003.60,1587.70 1018.00,1587.70" fill="#000"/>
<polygon points="993.00,1586.30 985.80,1600.70 1000.20,1600.70" fill="#000"/>
<polygon points="988.50,1606.80 981.30,1621.20 995.70,1621.20" fill="#000"/>
<polygon points="1006.20,1628.60 999.00,1643.00 1013.40,1643.00" fill="#000"/>
<polygon points="996.40,1649.00 989.20,1663.40 1003.60,1663.40" fill="#000"/>
<polygon points="1002.20,1656.80 995.00,1671.20 1009.40,1671.20" fill="#000"/>
<line x1="987.30" y1="1618.50" x2="1012.10" y2="1618.50" stroke="#000" stroke-width="3.8" stroke-linecap="round"/>
<line x1="999.70" y1="1606.20" x2="999.70" y2="1634.00" stroke="#000" stroke-width="3.8" stroke-linecap="butt"/>
<line x1="992.70" y1="1606.20" x2="1006.70" y2="1606.20" stroke="#000" stroke-width="3.8" stroke-linecap="round"/>
<line x1="992.70" y1="1634.00" x2="1006.70" y2="1634.00" stroke="#000" stroke-width="3.8" stroke-linecap="round"/>
<line x1="134.80" y1="1911.70" x2="134.80" y2="2306.75" stroke="#000" stroke-width="5.1" stroke-linecap="butt"/>
<line x1="126.80" y1="2304.20" x2="426.50" y2="2304.20" stroke="#000" stroke-width="5.1" stroke-linecap="butt"/>
<line x1="127.60" y1="1914.00" x2="133.80" y2="1914.00" stroke="#000" stroke-width="4.6" stroke-linecap="round"/>
<text x="124.50" y="1924.60" font-size="27.4" text-anchor="end" letter-spacing="-1.2">2000</text>
<line x1="127.60" y1="2011.55" x2="133.80" y2="2011.55" stroke="#000" stroke-width="4.6" stroke-linecap="round"/>
<text x="124.50" y="2022.15" font-size="27.4" text-anchor="end" letter-spacing="-1.2">1500</text>
<line x1="127.60" y1="2109.10" x2="133.80" y2="2109.10" stroke="#000" stroke-width="4.6" stroke-linecap="round"/>
<text x="124.50" y="2119.70" font-size="27.4" text-anchor="end" letter-spacing="-1.2">1000</text>
<line x1="127.60" y1="2206.65" x2="133.80" y2="2206.65" stroke="#000" stroke-width="4.6" stroke-linecap="round"/>
<text x="124.50" y="2217.25" font-size="27.4" text-anchor="end" letter-spacing="-1.2">500</text>
<line x1="127.60" y1="2304.20" x2="133.80" y2="2304.20" stroke="#000" stroke-width="4.6" stroke-linecap="round"/>
<text x="124.50" y="2314.80" font-size="27.4" text-anchor="end" letter-spacing="-1.2">0</text>
<line x1="170.50" y1="2304.20" x2="170.50" y2="2310.90" stroke="#000" stroke-width="4.6" stroke-linecap="round"/>
<line x1="243.70" y1="2304.20" x2="243.70" y2="2310.90" stroke="#000" stroke-width="4.6" stroke-linecap="round"/>
<line x1="316.80" y1="2304.20" x2="316.80" y2="2310.90" stroke="#000" stroke-width="4.6" stroke-linecap="round"/>
<line x1="390.00" y1="2304.20" x2="390.00" y2="2310.90" stroke="#000" stroke-width="4.6" stroke-linecap="round"/>
<line x1="534.80" y1="1910.90" x2="534.80" y2="2305.95" stroke="#000" stroke-width="5.1" stroke-linecap="butt"/>
<line x1="526.80" y1="2303.40" x2="825.00" y2="2303.40" stroke="#000" stroke-width="5.1" stroke-linecap="butt"/>
<line x1="527.60" y1="1913.20" x2="533.80" y2="1913.20" stroke="#000" stroke-width="4.6" stroke-linecap="round"/>
<text x="524.50" y="1923.80" font-size="27.4" text-anchor="end" letter-spacing="-1.2">200</text>
<line x1="527.60" y1="2010.75" x2="533.80" y2="2010.75" stroke="#000" stroke-width="4.6" stroke-linecap="round"/>
<text x="524.50" y="2021.35" font-size="27.4" text-anchor="end" letter-spacing="-1.2">150</text>
<line x1="527.60" y1="2108.30" x2="533.80" y2="2108.30" stroke="#000" stroke-width="4.6" stroke-linecap="round"/>
<text x="524.50" y="2118.90" font-size="27.4" text-anchor="end" letter-spacing="-1.2">100</text>
<line x1="527.60" y1="2205.85" x2="533.80" y2="2205.85" stroke="#000" stroke-width="4.6" stroke-linecap="round"/>
<text x="524.50" y="2216.45" font-size="27.4" text-anchor="end" letter-spacing="-1.2">50</text>
<line x1="527.60" y1="2303.40" x2="533.80" y2="2303.40" stroke="#000" stroke-width="4.6" stroke-linecap="round"/>
<text x="524.50" y="2314.00" font-size="27.4" text-anchor="end" letter-spacing="-1.2">0</text>
<line x1="570.20" y1="2303.40" x2="570.20" y2="2310.10" stroke="#000" stroke-width="4.6" stroke-linecap="round"/>
<line x1="643.40" y1="2303.40" x2="643.40" y2="2310.10" stroke="#000" stroke-width="4.6" stroke-linecap="round"/>
<line x1="716.20" y1="2303.40" x2="716.20" y2="2310.10" stroke="#000" stroke-width="4.6" stroke-linecap="round"/>
<line x1="789.10" y1="2303.40" x2="789.10" y2="2310.10" stroke="#000" stroke-width="4.6" stroke-linecap="round"/>
<text transform="translate(54.5 2214) rotate(-90)" font-size="27.4" textLength="228" lengthAdjust="spacing">Serum neutralization</text>
<text x="282.50" y="1885.00" font-size="27.4" text-anchor="middle" class="lt">HIV-1 IIIB</text>
<text x="282.00" y="1912.50" font-size="27.4" text-anchor="middle" class="lt">Jurkat T cells</text>
<text x="691.50" y="1885.00" font-size="27.4" text-anchor="middle" class="lt">Isolate 6794</text>
<text x="691.00" y="1912.50" font-size="27.4" text-anchor="middle" class="lt">huPBMC</text>
<line x1="173.00" y1="2129.00" x2="243.30" y2="2129.00" stroke="#000" stroke-width="3.2" stroke-linecap="butt"/>
<polygon points="208.20,2112.55 215.90,2113.15 215.90,2110.85 208.20,2111.45" fill="#000"/>
<polygon points="207.72,2112.28 211.05,2119.24 213.05,2118.09 208.68,2111.72" fill="#000"/>
<polygon points="207.72,2111.72 203.35,2118.09 205.35,2119.24 208.68,2112.28" fill="#000"/>
<polygon points="208.20,2111.45 200.50,2110.85 200.50,2113.15 208.20,2112.55" fill="#000"/>
<polygon points="208.68,2111.72 205.35,2104.76 203.35,2105.91 207.72,2112.28" fill="#000"/>
<polygon points="208.68,2112.28 213.05,2105.91 211.05,2104.76 207.72,2111.72" fill="#000"/>
<circle cx="208.20" cy="2112.00" r="1.3" fill="#000"/>
<line x1="238.20" y1="1960.50" x2="386.30" y2="1960.50" stroke="#000" stroke-width="3.2" stroke-linecap="butt"/>
<polygon points="312.00,1941.75 319.70,1942.35 319.70,1940.05 312.00,1940.65" fill="#000"/>
<polygon points="311.52,1941.48 314.85,1948.44 316.85,1947.29 312.48,1940.92" fill="#000"/>
<polygon points="311.52,1940.92 307.15,1947.29 309.15,1948.44 312.48,1941.48" fill="#000"/>
<polygon points="312.00,1940.65 304.30,1940.05 304.30,1942.35 312.00,1941.75" fill="#000"/>
<polygon points="312.48,1940.92 309.15,1933.96 307.15,1935.11 311.52,1941.48" fill="#000"/>
<polygon points="312.48,1941.48 316.85,1935.11 314.85,1933.96 311.52,1940.92" fill="#000"/>
<circle cx="312.00" cy="1941.20" r="1.3" fill="#000"/>
<circle cx="160.50" cy="2302.80" r="7.2" fill="none" stroke="#000" stroke-width="2.4"/>
<circle cx="164.00" cy="2302.80" r="7.2" fill="none" stroke="#000" stroke-width="2.4"/>
<circle cx="167.50" cy="2300.80" r="7.2" fill="none" stroke="#000" stroke-width="2.4"/>
<circle cx="171.00" cy="2300.30" r="7.2" fill="none" stroke="#000" stroke-width="2.4"/>
<circle cx="174.50" cy="2301.50" r="7.2" fill="none" stroke="#000" stroke-width="2.4"/>
<circle cx="178.00" cy="2302.80" r="7.2" fill="none" stroke="#000" stroke-width="2.4"/>
<circle cx="181.50" cy="2302.80" r="7.2" fill="none" stroke="#000" stroke-width="2.4"/>
<line x1="148.50" y1="2302.00" x2="193.00" y2="2302.00" stroke="#000" stroke-width="3.8" stroke-linecap="round"/>
<circle cx="244.00" cy="2167.80" r="7.2" fill="#000"/>
<circle cx="255.00" cy="2183.80" r="7.2" fill="#000"/>
<circle cx="232.50" cy="2195.00" r="7.2" fill="#000"/>
<circle cx="244.00" cy="2239.00" r="7.2" fill="#000"/>
<circle cx="232.50" cy="2273.20" r="7.2" fill="#000"/>
<circle cx="255.00" cy="2281.20" r="7.2" fill="#000"/>
<circle cx="244.00" cy="2289.00" r="7.2" fill="#000"/>
<line x1="221.80" y1="2232.80" x2="266.40" y2="2232.80" stroke="#000" stroke-width="3.8" stroke-linecap="round"/>
<line x1="244.10" y1="2213.80" x2="244.10" y2="2252.00" stroke="#000" stroke-width="3.8" stroke-linecap="butt"/>
<line x1="231.90" y1="2213.80" x2="256.30" y2="2213.80" stroke="#000" stroke-width="3.8" stroke-linecap="round"/>
<line x1="231.90" y1="2252.00" x2="256.30" y2="2252.00" stroke="#000" stroke-width="3.8" stroke-linecap="round"/>
<polygon points="305.50,2297.03 298.75,2310.15 312.25,2310.15" fill="none" stroke="#000" stroke-width="2.3" stroke-linejoin="miter"/>
<polygon points="309.00,2297.03 302.25,2310.15 315.75,2310.15" fill="none" stroke="#000" stroke-width="2.3" stroke-linejoin="miter"/>
<polygon points="312.50,2297.03 305.75,2310.15 319.25,2310.15" fill="none" stroke="#000" stroke-width="2.3" stroke-linejoin="miter"/>
<polygon points="314.30,2291.03 307.56,2304.15 321.05,2304.15" fill="none" stroke="#000" stroke-width="2.3" stroke-linejoin="miter"/>
<polygon points="319.60,2295.03 312.86,2308.15 326.35,2308.15" fill="none" stroke="#000" stroke-width="2.3" stroke-linejoin="miter"/>
<polygon points="323.00,2297.03 316.25,2310.15 329.75,2310.15" fill="none" stroke="#000" stroke-width="2.3" stroke-linejoin="miter"/>
<polygon points="327.50,2297.03 320.75,2310.15 334.25,2310.15" fill="none" stroke="#000" stroke-width="2.3" stroke-linejoin="miter"/>
<line x1="294.80" y1="2302.00" x2="339.20" y2="2302.00" stroke="#000" stroke-width="3.8" stroke-linecap="round"/>
<polygon points="390.00,1985.30 382.80,1999.70 397.20,1999.70" fill="#000"/>
<polygon points="378.80,2012.80 371.60,2027.20 386.00,2027.20" fill="#000"/>
<polygon points="401.20,2029.00 394.00,2043.40 408.40,2043.40" fill="#000"/>
<polygon points="390.00,2057.80 382.80,2072.20 397.20,2072.20" fill="#000"/>
<polygon points="390.00,2090.30 382.80,2104.70 397.20,2104.70" fill="#000"/>
<polygon points="401.20,2106.60 394.00,2121.00 408.40,2121.00" fill="#000"/>
<polygon points="378.80,2125.30 371.60,2139.70 386.00,2139.70" fill="#000"/>
<line x1="367.50" y1="2065.00" x2="412.50" y2="2065.00" stroke="#000" stroke-width="3.8" stroke-linecap="round"/>
<line x1="390.00" y1="2045.00" x2="390.00" y2="2084.50" stroke="#000" stroke-width="3.8" stroke-linecap="butt"/>
<line x1="378.00" y1="2045.00" x2="402.00" y2="2045.00" stroke="#000" stroke-width="3.8" stroke-linecap="round"/>
<line x1="378.00" y1="2084.50" x2="402.00" y2="2084.50" stroke="#000" stroke-width="3.8" stroke-linecap="round"/>
<line x1="572.50" y1="2180.80" x2="643.00" y2="2180.80" stroke="#000" stroke-width="3.2" stroke-linecap="butt"/>
<polygon points="607.50,2163.75 615.20,2164.35 615.20,2162.05 607.50,2162.65" fill="#000"/>
<polygon points="607.02,2163.47 610.35,2170.44 612.35,2169.29 607.98,2162.92" fill="#000"/>
<polygon points="607.02,2162.92 602.65,2169.29 604.65,2170.44 607.98,2163.47" fill="#000"/>
<polygon points="607.50,2162.65 599.80,2162.05 599.80,2164.35 607.50,2163.75" fill="#000"/>
<polygon points="607.98,2162.92 604.65,2155.96 602.65,2157.11 607.02,2163.47" fill="#000"/>
<polygon points="607.98,2163.47 612.35,2157.11 610.35,2155.96 607.02,2162.92" fill="#000"/>
<circle cx="607.50" cy="2163.20" r="1.3" fill="#000"/>
<line x1="642.50" y1="1959.00" x2="790.80" y2="1959.00" stroke="#000" stroke-width="3.2" stroke-linecap="butt"/>
<polygon points="716.20,1940.05 723.90,1940.65 723.90,1938.35 716.20,1938.95" fill="#000"/>
<polygon points="715.72,1939.78 719.05,1946.74 721.05,1945.59 716.68,1939.22" fill="#000"/>
<polygon points="715.72,1939.22 711.35,1945.59 713.35,1946.74 716.68,1939.78" fill="#000"/>
<polygon points="716.20,1938.95 708.50,1938.35 708.50,1940.65 716.20,1940.05" fill="#000"/>
<polygon points="716.68,1939.22 713.35,1932.26 711.35,1933.41 715.72,1939.78" fill="#000"/>
<polygon points="716.68,1939.78 721.05,1933.41 719.05,1932.26 715.72,1939.22" fill="#000"/>
<circle cx="716.20" cy="1939.50" r="1.3" fill="#000"/>
<circle cx="558.00" cy="2287.90" r="7.2" fill="none" stroke="#000" stroke-width="2.6"/>
<circle cx="560.30" cy="2288.20" r="7.2" fill="none" stroke="#000" stroke-width="2.6"/>
<circle cx="562.80" cy="2288.90" r="7.2" fill="none" stroke="#000" stroke-width="2.6"/>
<circle cx="565.30" cy="2290.60" r="7.2" fill="none" stroke="#000" stroke-width="2.6"/>
<circle cx="567.70" cy="2291.70" r="7.2" fill="none" stroke="#000" stroke-width="2.6"/>
<circle cx="570.00" cy="2291.90" r="7.2" fill="none" stroke="#000" stroke-width="2.6"/>
<circle cx="572.40" cy="2291.70" r="7.2" fill="none" stroke="#000" stroke-width="2.6"/>
<circle cx="575.00" cy="2290.60" r="7.2" fill="none" stroke="#000" stroke-width="2.6"/>
<circle cx="577.60" cy="2289.00" r="7.2" fill="none" stroke="#000" stroke-width="2.6"/>
<circle cx="580.20" cy="2288.20" r="7.2" fill="none" stroke="#000" stroke-width="2.6"/>
<circle cx="582.70" cy="2287.90" r="7.2" fill="none" stroke="#000" stroke-width="2.6"/>
<line x1="548.40" y1="2289.80" x2="591.90" y2="2289.80" stroke="#000" stroke-width="3.8" stroke-linecap="round"/>
<circle cx="632.00" cy="2225.80" r="7.2" fill="#000"/>
<circle cx="654.50" cy="2225.80" r="7.2" fill="#000"/>
<circle cx="632.00" cy="2245.20" r="7.2" fill="#000"/>
<circle cx="652.50" cy="2265.80" r="7.2" fill="#000"/>
<circle cx="629.50" cy="2284.00" r="7.2" fill="#000"/>
<circle cx="643.00" cy="2288.20" r="7.2" fill="#000"/>
<circle cx="656.20" cy="2288.20" r="7.2" fill="#000"/>
<line x1="621.50" y1="2260.00" x2="665.50" y2="2260.00" stroke="#000" stroke-width="3.8" stroke-linecap="round"/>
<line x1="643.50" y1="2249.00" x2="643.50" y2="2270.20" stroke="#000" stroke-width="3.8" stroke-linecap="butt"/>
<line x1="631.50" y1="2249.00" x2="655.50" y2="2249.00" stroke="#000" stroke-width="3.8" stroke-linecap="round"/>
<line x1="631.50" y1="2270.20" x2="655.50" y2="2270.20" stroke="#000" stroke-width="3.8" stroke-linecap="round"/>
<polygon points="703.50,2282.73 696.75,2295.45 710.25,2295.45" fill="none" stroke="#000" stroke-width="2.3" stroke-linejoin="miter"/>
<polygon points="707.50,2282.73 700.75,2295.45 714.25,2295.45" fill="none" stroke="#000" stroke-width="2.3" stroke-linejoin="miter"/>
<polygon points="711.50,2282.73 704.75,2295.45 718.25,2295.45" fill="none" stroke="#000" stroke-width="2.3" stroke-linejoin="miter"/>
<polygon points="723.70,2282.73 716.96,2295.45 730.45,2295.45" fill="none" stroke="#000" stroke-width="2.3" stroke-linejoin="miter"/>
<polygon points="728.00,2282.73 721.25,2295.45 734.75,2295.45" fill="none" stroke="#000" stroke-width="2.3" stroke-linejoin="miter"/>
<polygon points="716.40,2285.73 709.65,2298.45 723.14,2298.45" fill="none" stroke="#000" stroke-width="2.3" stroke-linejoin="miter"/>
<polygon points="719.00,2285.73 712.25,2298.45 725.75,2298.45" fill="none" stroke="#000" stroke-width="2.3" stroke-linejoin="miter"/>
<line x1="694.20" y1="2288.70" x2="737.50" y2="2288.70" stroke="#000" stroke-width="3.8" stroke-linecap="round"/>
<polygon points="788.80,1985.30 781.60,1999.70 796.00,1999.70" fill="#000"/>
<polygon points="788.80,2101.80 781.60,2116.20 796.00,2116.20" fill="#000"/>
<polygon points="788.80,2142.30 781.60,2156.70 796.00,2156.70" fill="#000"/>
<polygon points="777.50,2179.80 770.30,2194.20 784.70,2194.20" fill="#000"/>
<polygon points="800.00,2179.80 792.80,2194.20 807.20,2194.20" fill="#000"/>
<polygon points="777.50,2219.30 770.30,2233.70 784.70,2233.70" fill="#000"/>
<polygon points="800.00,2219.30 792.80,2233.70 807.20,2233.70" fill="#000"/>
<line x1="766.80" y1="2153.20" x2="810.80" y2="2153.20" stroke="#000" stroke-width="3.8" stroke-linecap="round"/>
<line x1="788.80" y1="2122.00" x2="788.80" y2="2184.50" stroke="#000" stroke-width="3.8" stroke-linecap="butt"/>
<line x1="776.80" y1="2122.00" x2="800.80" y2="2122.00" stroke="#000" stroke-width="3.8" stroke-linecap="round"/>
<line x1="776.80" y1="2184.50" x2="800.80" y2="2184.50" stroke="#000" stroke-width="3.8" stroke-linecap="round"/>
</g>
</svg></body></html>
